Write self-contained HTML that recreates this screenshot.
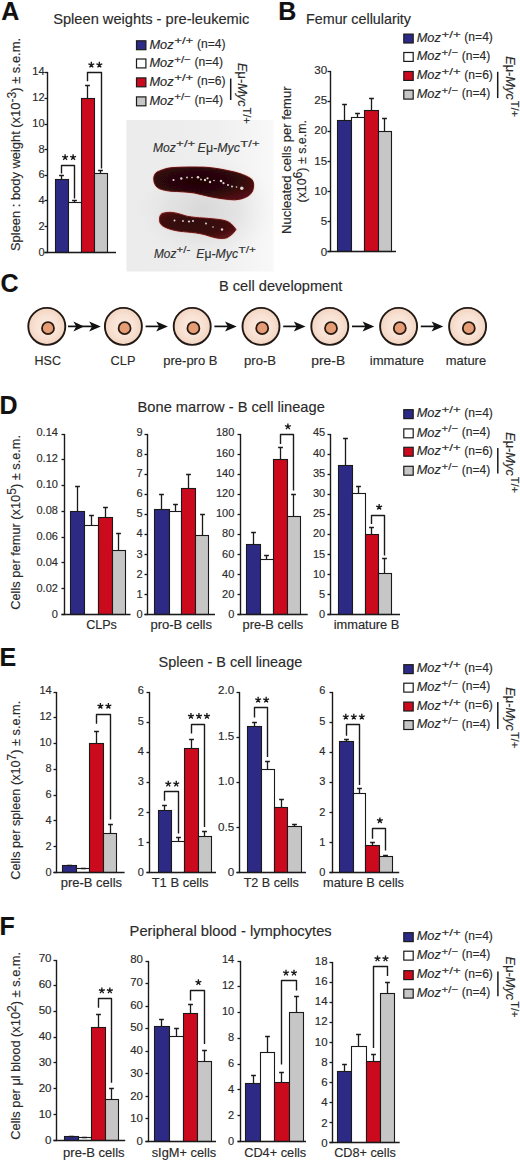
<!DOCTYPE html><html><head><meta charset="utf-8"><title>Figure</title><style>html,body{margin:0;padding:0;background:#fff;}svg{display:block;font-family:"Liberation Sans",sans-serif;} text{stroke:#2a2a2a;stroke-width:0.15px;}</style></head><body>
<svg width="520" height="1162" viewBox="0 0 520 1162">
<rect width="520" height="1162" fill="#fff"/>
<g fill="#2a2a2a">
<text x="1.2" y="19.5" font-size="25" font-weight="bold" fill="#111">A</text>
<text x="278.3" y="19.8" font-size="25" font-weight="bold" fill="#111">B</text>
<text x="0.6" y="292.3" font-size="25" font-weight="bold" fill="#111">C</text>
<text x="-0.4" y="414.4" font-size="25" font-weight="bold" fill="#111">D</text>
<text x="-0.6" y="665.9" font-size="25" font-weight="bold" fill="#111">E</text>
<text x="-0.6" y="935.1" font-size="25" font-weight="bold" fill="#111">F</text>
<text x="53.2" y="23.6" font-size="14.4" textLength="196.2" lengthAdjust="spacingAndGlyphs">Spleen weights - pre-leukemic</text>
<text x="306" y="23.5" font-size="14.4" textLength="105" lengthAdjust="spacingAndGlyphs">Femur cellularity</text>
<text x="219" y="291" font-size="14.4" textLength="123.4" lengthAdjust="spacingAndGlyphs">B cell development</text>
<text x="137.6" y="411.9" font-size="14.4" textLength="187.2" lengthAdjust="spacingAndGlyphs">Bone marrow - B cell lineage</text>
<text x="158.6" y="667" font-size="14.4" textLength="143.6" lengthAdjust="spacingAndGlyphs">Spleen - B cell lineage</text>
<text x="129.6" y="936.2" font-size="14.4" textLength="202.1" lengthAdjust="spacingAndGlyphs">Peripheral blood - lymphocytes</text>
<rect x="55.5" y="179.5" width="13" height="73" fill="#2d2a86" stroke="#1a1a1a" stroke-width="1.1"/>
<rect x="68.5" y="202.5" width="13" height="50" fill="#ffffff" stroke="#1a1a1a" stroke-width="1.1"/>
<rect x="81.5" y="98.5" width="13" height="154" fill="#cc0a1e" stroke="#1a1a1a" stroke-width="1.1"/>
<rect x="94.5" y="173.5" width="13" height="79" fill="#c6c6c6" stroke="#1a1a1a" stroke-width="1.1"/>
<line x1="61.5" y1="179.5" x2="61.5" y2="175.5" stroke="#1a1a1a" stroke-width="1.3" stroke-linecap="butt"/>
<line x1="59.1" y1="175.5" x2="63.9" y2="175.5" stroke="#1a1a1a" stroke-width="1.5" stroke-linecap="butt"/>
<line x1="74.5" y1="202.5" x2="74.5" y2="200.5" stroke="#1a1a1a" stroke-width="1.3" stroke-linecap="butt"/>
<line x1="72.1" y1="200.5" x2="76.9" y2="200.5" stroke="#1a1a1a" stroke-width="1.5" stroke-linecap="butt"/>
<line x1="87.5" y1="98.5" x2="87.5" y2="85.5" stroke="#1a1a1a" stroke-width="1.3" stroke-linecap="butt"/>
<line x1="85.1" y1="85.5" x2="89.9" y2="85.5" stroke="#1a1a1a" stroke-width="1.5" stroke-linecap="butt"/>
<line x1="100.5" y1="173.5" x2="100.5" y2="170.5" stroke="#1a1a1a" stroke-width="1.3" stroke-linecap="butt"/>
<line x1="98.1" y1="170.5" x2="102.9" y2="170.5" stroke="#1a1a1a" stroke-width="1.5" stroke-linecap="butt"/>
<line x1="47.5" y1="71.9" x2="47.5" y2="253.1" stroke="#1a1a1a" stroke-width="1.4" stroke-linecap="butt"/>
<line x1="44.5" y1="252.5" x2="116" y2="252.5" stroke="#1a1a1a" stroke-width="1.4" stroke-linecap="butt"/>
<line x1="44.5" y1="252.5" x2="47.5" y2="252.5" stroke="#1a1a1a" stroke-width="1.3" stroke-linecap="butt"/>
<text x="44.6" y="256.14" font-size="11" text-anchor="end">0</text>
<line x1="44.5" y1="226.5" x2="47.5" y2="226.5" stroke="#1a1a1a" stroke-width="1.3" stroke-linecap="butt"/>
<text x="44.6" y="230.25" font-size="11" text-anchor="end">2</text>
<line x1="44.5" y1="200.5" x2="47.5" y2="200.5" stroke="#1a1a1a" stroke-width="1.3" stroke-linecap="butt"/>
<text x="44.6" y="204.37" font-size="11" text-anchor="end">4</text>
<line x1="44.5" y1="175.5" x2="47.5" y2="175.5" stroke="#1a1a1a" stroke-width="1.3" stroke-linecap="butt"/>
<text x="44.6" y="178.48" font-size="11" text-anchor="end">6</text>
<line x1="44.5" y1="149.5" x2="47.5" y2="149.5" stroke="#1a1a1a" stroke-width="1.3" stroke-linecap="butt"/>
<text x="44.6" y="152.6" font-size="11" text-anchor="end">8</text>
<line x1="44.5" y1="124.5" x2="47.5" y2="124.5" stroke="#1a1a1a" stroke-width="1.3" stroke-linecap="butt"/>
<text x="44.6" y="126.71" font-size="11" text-anchor="end">10</text>
<line x1="44.5" y1="98.5" x2="47.5" y2="98.5" stroke="#1a1a1a" stroke-width="1.3" stroke-linecap="butt"/>
<text x="44.6" y="100.82" font-size="11" text-anchor="end">12</text>
<line x1="44.5" y1="72.5" x2="47.5" y2="72.5" stroke="#1a1a1a" stroke-width="1.3" stroke-linecap="butt"/>
<text x="44.6" y="74.94" font-size="11" text-anchor="end">14</text>
<path d="M61.5 173.5V165.5H74.5V198.5" stroke="#1a1a1a" stroke-width="1.4" fill="none" stroke-linejoin="round"/>
<path d="M65.1 157.4L65.1 154.3M65.1 157.4L68.05 156.44M65.1 157.4L66.92 159.91M65.1 157.4L63.28 159.91M65.1 157.4L62.15 156.44" stroke="#1a1a1a" stroke-width="1.35" stroke-linecap="butt" fill="none"/>
<path d="M73.1 157.4L73.1 154.3M73.1 157.4L76.05 156.44M73.1 157.4L74.92 159.91M73.1 157.4L71.28 159.91M73.1 157.4L70.15 156.44" stroke="#1a1a1a" stroke-width="1.35" stroke-linecap="butt" fill="none"/>
<path d="M87.5 81.3V72.5H101.5V168.5" stroke="#1a1a1a" stroke-width="1.4" fill="none" stroke-linejoin="round"/>
<path d="M91.35 64.9L91.35 61.8M91.35 64.9L94.3 63.94M91.35 64.9L93.17 67.41M91.35 64.9L89.53 67.41M91.35 64.9L88.4 63.94" stroke="#1a1a1a" stroke-width="1.35" stroke-linecap="butt" fill="none"/>
<path d="M99.35 64.9L99.35 61.8M99.35 64.9L102.3 63.94M99.35 64.9L101.17 67.41M99.35 64.9L97.53 67.41M99.35 64.9L96.4 63.94" stroke="#1a1a1a" stroke-width="1.35" stroke-linecap="butt" fill="none"/>
<text x="0" y="0" font-size="12" textLength="0.01" lengthAdjust="spacingAndGlyphs"></text>
<rect x="337.5" y="120.5" width="14" height="131" fill="#2d2a86" stroke="#1a1a1a" stroke-width="1.1"/>
<rect x="351.5" y="117.5" width="13" height="134" fill="#ffffff" stroke="#1a1a1a" stroke-width="1.1"/>
<rect x="364.5" y="110.5" width="14" height="141" fill="#cc0a1e" stroke="#1a1a1a" stroke-width="1.1"/>
<rect x="378.5" y="131.5" width="13" height="120" fill="#c6c6c6" stroke="#1a1a1a" stroke-width="1.1"/>
<line x1="344.5" y1="120.5" x2="344.5" y2="104.5" stroke="#1a1a1a" stroke-width="1.3" stroke-linecap="butt"/>
<line x1="342.1" y1="104.5" x2="346.9" y2="104.5" stroke="#1a1a1a" stroke-width="1.5" stroke-linecap="butt"/>
<line x1="357.5" y1="117.5" x2="357.5" y2="113.5" stroke="#1a1a1a" stroke-width="1.3" stroke-linecap="butt"/>
<line x1="355.1" y1="113.5" x2="359.9" y2="113.5" stroke="#1a1a1a" stroke-width="1.5" stroke-linecap="butt"/>
<line x1="371.5" y1="110.5" x2="371.5" y2="98.5" stroke="#1a1a1a" stroke-width="1.3" stroke-linecap="butt"/>
<line x1="369.1" y1="98.5" x2="373.9" y2="98.5" stroke="#1a1a1a" stroke-width="1.5" stroke-linecap="butt"/>
<line x1="384.5" y1="131.5" x2="384.5" y2="118.5" stroke="#1a1a1a" stroke-width="1.3" stroke-linecap="butt"/>
<line x1="382.1" y1="118.5" x2="386.9" y2="118.5" stroke="#1a1a1a" stroke-width="1.5" stroke-linecap="butt"/>
<line x1="330.5" y1="70.9" x2="330.5" y2="252.1" stroke="#1a1a1a" stroke-width="1.4" stroke-linecap="butt"/>
<line x1="327.5" y1="251.5" x2="396" y2="251.5" stroke="#1a1a1a" stroke-width="1.4" stroke-linecap="butt"/>
<line x1="327.5" y1="251.5" x2="330.5" y2="251.5" stroke="#1a1a1a" stroke-width="1.3" stroke-linecap="butt"/>
<text x="327.2" y="255.55" font-size="11.6" text-anchor="end">0</text>
<line x1="327.5" y1="221.5" x2="330.5" y2="221.5" stroke="#1a1a1a" stroke-width="1.3" stroke-linecap="butt"/>
<text x="327.2" y="225.24" font-size="11.6" text-anchor="end">5</text>
<line x1="327.5" y1="191.5" x2="330.5" y2="191.5" stroke="#1a1a1a" stroke-width="1.3" stroke-linecap="butt"/>
<text x="327.2" y="194.92" font-size="11.6" text-anchor="end">10</text>
<line x1="327.5" y1="161.5" x2="330.5" y2="161.5" stroke="#1a1a1a" stroke-width="1.3" stroke-linecap="butt"/>
<text x="327.2" y="164.6" font-size="11.6" text-anchor="end">15</text>
<line x1="327.5" y1="131.5" x2="330.5" y2="131.5" stroke="#1a1a1a" stroke-width="1.3" stroke-linecap="butt"/>
<text x="327.2" y="134.29" font-size="11.6" text-anchor="end">20</text>
<line x1="327.5" y1="101.5" x2="330.5" y2="101.5" stroke="#1a1a1a" stroke-width="1.3" stroke-linecap="butt"/>
<text x="327.2" y="103.97" font-size="11.6" text-anchor="end">25</text>
<line x1="327.5" y1="71.5" x2="330.5" y2="71.5" stroke="#1a1a1a" stroke-width="1.3" stroke-linecap="butt"/>
<text x="327.2" y="73.65" font-size="11.6" text-anchor="end">30</text>
<text x="0" y="0" font-size="12" textLength="0.01" lengthAdjust="spacingAndGlyphs"></text>
<rect x="70.5" y="511.5" width="14" height="103" fill="#2d2a86" stroke="#1a1a1a" stroke-width="1.1"/>
<rect x="84.5" y="525.5" width="14" height="89" fill="#ffffff" stroke="#1a1a1a" stroke-width="1.1"/>
<rect x="98.5" y="517.5" width="14" height="97" fill="#cc0a1e" stroke="#1a1a1a" stroke-width="1.1"/>
<rect x="112.5" y="550.5" width="13" height="64" fill="#c6c6c6" stroke="#1a1a1a" stroke-width="1.1"/>
<line x1="77.5" y1="511.5" x2="77.5" y2="486.5" stroke="#1a1a1a" stroke-width="1.3" stroke-linecap="butt"/>
<line x1="75.1" y1="486.5" x2="79.9" y2="486.5" stroke="#1a1a1a" stroke-width="1.5" stroke-linecap="butt"/>
<line x1="91.5" y1="525.5" x2="91.5" y2="515.5" stroke="#1a1a1a" stroke-width="1.3" stroke-linecap="butt"/>
<line x1="89.1" y1="515.5" x2="93.9" y2="515.5" stroke="#1a1a1a" stroke-width="1.5" stroke-linecap="butt"/>
<line x1="105.5" y1="517.5" x2="105.5" y2="507.5" stroke="#1a1a1a" stroke-width="1.3" stroke-linecap="butt"/>
<line x1="103.1" y1="507.5" x2="107.9" y2="507.5" stroke="#1a1a1a" stroke-width="1.5" stroke-linecap="butt"/>
<line x1="118.5" y1="550.5" x2="118.5" y2="533.5" stroke="#1a1a1a" stroke-width="1.3" stroke-linecap="butt"/>
<line x1="116.1" y1="533.5" x2="120.9" y2="533.5" stroke="#1a1a1a" stroke-width="1.5" stroke-linecap="butt"/>
<line x1="64.5" y1="433.9" x2="64.5" y2="615.1" stroke="#1a1a1a" stroke-width="1.4" stroke-linecap="butt"/>
<line x1="61.5" y1="614.5" x2="130.5" y2="614.5" stroke="#1a1a1a" stroke-width="1.4" stroke-linecap="butt"/>
<line x1="61.5" y1="614.5" x2="64.5" y2="614.5" stroke="#1a1a1a" stroke-width="1.3" stroke-linecap="butt"/>
<text x="57.9" y="618.14" font-size="11" text-anchor="end">0</text>
<line x1="61.5" y1="588.5" x2="64.5" y2="588.5" stroke="#1a1a1a" stroke-width="1.3" stroke-linecap="butt"/>
<text x="57.9" y="592.17" font-size="11" text-anchor="end">0.02</text>
<line x1="61.5" y1="562.5" x2="64.5" y2="562.5" stroke="#1a1a1a" stroke-width="1.3" stroke-linecap="butt"/>
<text x="57.9" y="566.2" font-size="11" text-anchor="end">0.04</text>
<line x1="61.5" y1="537.5" x2="64.5" y2="537.5" stroke="#1a1a1a" stroke-width="1.3" stroke-linecap="butt"/>
<text x="57.9" y="540.22" font-size="11" text-anchor="end">0.06</text>
<line x1="61.5" y1="511.5" x2="64.5" y2="511.5" stroke="#1a1a1a" stroke-width="1.3" stroke-linecap="butt"/>
<text x="57.9" y="514.25" font-size="11" text-anchor="end">0.08</text>
<line x1="61.5" y1="485.5" x2="64.5" y2="485.5" stroke="#1a1a1a" stroke-width="1.3" stroke-linecap="butt"/>
<text x="57.9" y="488.28" font-size="11" text-anchor="end">0.10</text>
<line x1="61.5" y1="459.5" x2="64.5" y2="459.5" stroke="#1a1a1a" stroke-width="1.3" stroke-linecap="butt"/>
<text x="57.9" y="462.31" font-size="11" text-anchor="end">0.12</text>
<line x1="61.5" y1="434.5" x2="64.5" y2="434.5" stroke="#1a1a1a" stroke-width="1.3" stroke-linecap="butt"/>
<text x="57.9" y="436.34" font-size="11" text-anchor="end">0.14</text>
<text x="86.2" y="629.4" font-size="12" textLength="30.7" lengthAdjust="spacingAndGlyphs">CLPs</text>
<rect x="154.5" y="509.5" width="15" height="105" fill="#2d2a86" stroke="#1a1a1a" stroke-width="1.1"/>
<rect x="169.5" y="511.5" width="12" height="103" fill="#ffffff" stroke="#1a1a1a" stroke-width="1.1"/>
<rect x="181.5" y="488.5" width="14" height="126" fill="#cc0a1e" stroke="#1a1a1a" stroke-width="1.1"/>
<rect x="195.5" y="535.5" width="13" height="79" fill="#c6c6c6" stroke="#1a1a1a" stroke-width="1.1"/>
<line x1="161.5" y1="509.5" x2="161.5" y2="494.5" stroke="#1a1a1a" stroke-width="1.3" stroke-linecap="butt"/>
<line x1="159.1" y1="494.5" x2="163.9" y2="494.5" stroke="#1a1a1a" stroke-width="1.5" stroke-linecap="butt"/>
<line x1="175.5" y1="511.5" x2="175.5" y2="504.5" stroke="#1a1a1a" stroke-width="1.3" stroke-linecap="butt"/>
<line x1="173.1" y1="504.5" x2="177.9" y2="504.5" stroke="#1a1a1a" stroke-width="1.5" stroke-linecap="butt"/>
<line x1="188.5" y1="488.5" x2="188.5" y2="474.5" stroke="#1a1a1a" stroke-width="1.3" stroke-linecap="butt"/>
<line x1="186.1" y1="474.5" x2="190.9" y2="474.5" stroke="#1a1a1a" stroke-width="1.5" stroke-linecap="butt"/>
<line x1="202.5" y1="535.5" x2="202.5" y2="514.5" stroke="#1a1a1a" stroke-width="1.3" stroke-linecap="butt"/>
<line x1="200.1" y1="514.5" x2="204.9" y2="514.5" stroke="#1a1a1a" stroke-width="1.5" stroke-linecap="butt"/>
<line x1="147.5" y1="433.9" x2="147.5" y2="615.1" stroke="#1a1a1a" stroke-width="1.4" stroke-linecap="butt"/>
<line x1="144.5" y1="614.5" x2="215" y2="614.5" stroke="#1a1a1a" stroke-width="1.4" stroke-linecap="butt"/>
<line x1="144.5" y1="614.5" x2="147.5" y2="614.5" stroke="#1a1a1a" stroke-width="1.3" stroke-linecap="butt"/>
<text x="142.6" y="618.14" font-size="11" text-anchor="end">0</text>
<line x1="144.5" y1="594.5" x2="147.5" y2="594.5" stroke="#1a1a1a" stroke-width="1.3" stroke-linecap="butt"/>
<text x="142.6" y="597.94" font-size="11" text-anchor="end">1</text>
<line x1="144.5" y1="574.5" x2="147.5" y2="574.5" stroke="#1a1a1a" stroke-width="1.3" stroke-linecap="butt"/>
<text x="142.6" y="577.74" font-size="11" text-anchor="end">2</text>
<line x1="144.5" y1="554.5" x2="147.5" y2="554.5" stroke="#1a1a1a" stroke-width="1.3" stroke-linecap="butt"/>
<text x="142.6" y="557.54" font-size="11" text-anchor="end">3</text>
<line x1="144.5" y1="534.5" x2="147.5" y2="534.5" stroke="#1a1a1a" stroke-width="1.3" stroke-linecap="butt"/>
<text x="142.6" y="537.34" font-size="11" text-anchor="end">4</text>
<line x1="144.5" y1="514.5" x2="147.5" y2="514.5" stroke="#1a1a1a" stroke-width="1.3" stroke-linecap="butt"/>
<text x="142.6" y="517.14" font-size="11" text-anchor="end">5</text>
<line x1="144.5" y1="494.5" x2="147.5" y2="494.5" stroke="#1a1a1a" stroke-width="1.3" stroke-linecap="butt"/>
<text x="142.6" y="496.94" font-size="11" text-anchor="end">6</text>
<line x1="144.5" y1="474.5" x2="147.5" y2="474.5" stroke="#1a1a1a" stroke-width="1.3" stroke-linecap="butt"/>
<text x="142.6" y="476.74" font-size="11" text-anchor="end">7</text>
<line x1="144.5" y1="454.5" x2="147.5" y2="454.5" stroke="#1a1a1a" stroke-width="1.3" stroke-linecap="butt"/>
<text x="142.6" y="456.54" font-size="11" text-anchor="end">8</text>
<line x1="144.5" y1="434.5" x2="147.5" y2="434.5" stroke="#1a1a1a" stroke-width="1.3" stroke-linecap="butt"/>
<text x="142.6" y="436.34" font-size="11" text-anchor="end">9</text>
<text x="150.4" y="629.4" font-size="12" textLength="61.6" lengthAdjust="spacingAndGlyphs">pro-B cells</text>
<rect x="246.5" y="544.5" width="14" height="70" fill="#2d2a86" stroke="#1a1a1a" stroke-width="1.1"/>
<rect x="260.5" y="559.5" width="13" height="55" fill="#ffffff" stroke="#1a1a1a" stroke-width="1.1"/>
<rect x="273.5" y="459.5" width="14" height="155" fill="#cc0a1e" stroke="#1a1a1a" stroke-width="1.1"/>
<rect x="287.5" y="516.5" width="13" height="98" fill="#c6c6c6" stroke="#1a1a1a" stroke-width="1.1"/>
<line x1="253.5" y1="544.5" x2="253.5" y2="532.5" stroke="#1a1a1a" stroke-width="1.3" stroke-linecap="butt"/>
<line x1="251.1" y1="532.5" x2="255.9" y2="532.5" stroke="#1a1a1a" stroke-width="1.5" stroke-linecap="butt"/>
<line x1="266.5" y1="559.5" x2="266.5" y2="555.5" stroke="#1a1a1a" stroke-width="1.3" stroke-linecap="butt"/>
<line x1="264.1" y1="555.5" x2="268.9" y2="555.5" stroke="#1a1a1a" stroke-width="1.5" stroke-linecap="butt"/>
<line x1="280.5" y1="459.5" x2="280.5" y2="447.5" stroke="#1a1a1a" stroke-width="1.3" stroke-linecap="butt"/>
<line x1="278.1" y1="447.5" x2="282.9" y2="447.5" stroke="#1a1a1a" stroke-width="1.5" stroke-linecap="butt"/>
<line x1="293.5" y1="516.5" x2="293.5" y2="494.5" stroke="#1a1a1a" stroke-width="1.3" stroke-linecap="butt"/>
<line x1="291.1" y1="494.5" x2="295.9" y2="494.5" stroke="#1a1a1a" stroke-width="1.5" stroke-linecap="butt"/>
<line x1="240.5" y1="433.9" x2="240.5" y2="615.1" stroke="#1a1a1a" stroke-width="1.4" stroke-linecap="butt"/>
<line x1="237.5" y1="614.5" x2="307.7" y2="614.5" stroke="#1a1a1a" stroke-width="1.4" stroke-linecap="butt"/>
<line x1="237.5" y1="614.5" x2="240.5" y2="614.5" stroke="#1a1a1a" stroke-width="1.3" stroke-linecap="butt"/>
<text x="234.3" y="618.14" font-size="11" text-anchor="end">0</text>
<line x1="237.5" y1="594.5" x2="240.5" y2="594.5" stroke="#1a1a1a" stroke-width="1.3" stroke-linecap="butt"/>
<text x="234.3" y="597.94" font-size="11" text-anchor="end">20</text>
<line x1="237.5" y1="574.5" x2="240.5" y2="574.5" stroke="#1a1a1a" stroke-width="1.3" stroke-linecap="butt"/>
<text x="234.3" y="577.74" font-size="11" text-anchor="end">40</text>
<line x1="237.5" y1="554.5" x2="240.5" y2="554.5" stroke="#1a1a1a" stroke-width="1.3" stroke-linecap="butt"/>
<text x="234.3" y="557.54" font-size="11" text-anchor="end">60</text>
<line x1="237.5" y1="534.5" x2="240.5" y2="534.5" stroke="#1a1a1a" stroke-width="1.3" stroke-linecap="butt"/>
<text x="234.3" y="537.34" font-size="11" text-anchor="end">80</text>
<line x1="237.5" y1="514.5" x2="240.5" y2="514.5" stroke="#1a1a1a" stroke-width="1.3" stroke-linecap="butt"/>
<text x="234.3" y="517.14" font-size="11" text-anchor="end">100</text>
<line x1="237.5" y1="494.5" x2="240.5" y2="494.5" stroke="#1a1a1a" stroke-width="1.3" stroke-linecap="butt"/>
<text x="234.3" y="496.94" font-size="11" text-anchor="end">120</text>
<line x1="237.5" y1="474.5" x2="240.5" y2="474.5" stroke="#1a1a1a" stroke-width="1.3" stroke-linecap="butt"/>
<text x="234.3" y="476.74" font-size="11" text-anchor="end">140</text>
<line x1="237.5" y1="454.5" x2="240.5" y2="454.5" stroke="#1a1a1a" stroke-width="1.3" stroke-linecap="butt"/>
<text x="234.3" y="456.54" font-size="11" text-anchor="end">160</text>
<line x1="237.5" y1="434.5" x2="240.5" y2="434.5" stroke="#1a1a1a" stroke-width="1.3" stroke-linecap="butt"/>
<text x="234.3" y="436.34" font-size="11" text-anchor="end">180</text>
<path d="M280.5 444V434.5H293.5V490.4" stroke="#1a1a1a" stroke-width="1.4" fill="none" stroke-linejoin="round"/>
<path d="M287.9 426.6L287.9 423.5M287.9 426.6L290.85 425.64M287.9 426.6L289.72 429.11M287.9 426.6L286.08 429.11M287.9 426.6L284.95 425.64" stroke="#1a1a1a" stroke-width="1.35" stroke-linecap="butt" fill="none"/>
<text x="242.5" y="629.4" font-size="12" textLength="60.7" lengthAdjust="spacingAndGlyphs">pre-B cells</text>
<rect x="338.5" y="465.5" width="14" height="149" fill="#2d2a86" stroke="#1a1a1a" stroke-width="1.1"/>
<rect x="352.5" y="493.5" width="13" height="121" fill="#ffffff" stroke="#1a1a1a" stroke-width="1.1"/>
<rect x="365.5" y="534.5" width="13" height="80" fill="#cc0a1e" stroke="#1a1a1a" stroke-width="1.1"/>
<rect x="378.5" y="573.5" width="13" height="41" fill="#c6c6c6" stroke="#1a1a1a" stroke-width="1.1"/>
<line x1="345.5" y1="465.5" x2="345.5" y2="438.5" stroke="#1a1a1a" stroke-width="1.3" stroke-linecap="butt"/>
<line x1="343.1" y1="438.5" x2="347.9" y2="438.5" stroke="#1a1a1a" stroke-width="1.5" stroke-linecap="butt"/>
<line x1="358.5" y1="493.5" x2="358.5" y2="486.5" stroke="#1a1a1a" stroke-width="1.3" stroke-linecap="butt"/>
<line x1="356.1" y1="486.5" x2="360.9" y2="486.5" stroke="#1a1a1a" stroke-width="1.5" stroke-linecap="butt"/>
<line x1="371.5" y1="534.5" x2="371.5" y2="527.5" stroke="#1a1a1a" stroke-width="1.3" stroke-linecap="butt"/>
<line x1="369.1" y1="527.5" x2="373.9" y2="527.5" stroke="#1a1a1a" stroke-width="1.5" stroke-linecap="butt"/>
<line x1="384.5" y1="573.5" x2="384.5" y2="558.5" stroke="#1a1a1a" stroke-width="1.3" stroke-linecap="butt"/>
<line x1="382.1" y1="558.5" x2="386.9" y2="558.5" stroke="#1a1a1a" stroke-width="1.5" stroke-linecap="butt"/>
<line x1="330.5" y1="433.9" x2="330.5" y2="615.1" stroke="#1a1a1a" stroke-width="1.4" stroke-linecap="butt"/>
<line x1="327.5" y1="614.5" x2="400" y2="614.5" stroke="#1a1a1a" stroke-width="1.4" stroke-linecap="butt"/>
<line x1="327.5" y1="614.5" x2="330.5" y2="614.5" stroke="#1a1a1a" stroke-width="1.3" stroke-linecap="butt"/>
<text x="325.2" y="618.14" font-size="11" text-anchor="end">0</text>
<line x1="327.5" y1="594.5" x2="330.5" y2="594.5" stroke="#1a1a1a" stroke-width="1.3" stroke-linecap="butt"/>
<text x="325.2" y="597.94" font-size="11" text-anchor="end">5</text>
<line x1="327.5" y1="574.5" x2="330.5" y2="574.5" stroke="#1a1a1a" stroke-width="1.3" stroke-linecap="butt"/>
<text x="325.2" y="577.74" font-size="11" text-anchor="end">10</text>
<line x1="327.5" y1="554.5" x2="330.5" y2="554.5" stroke="#1a1a1a" stroke-width="1.3" stroke-linecap="butt"/>
<text x="325.2" y="557.54" font-size="11" text-anchor="end">15</text>
<line x1="327.5" y1="534.5" x2="330.5" y2="534.5" stroke="#1a1a1a" stroke-width="1.3" stroke-linecap="butt"/>
<text x="325.2" y="537.34" font-size="11" text-anchor="end">20</text>
<line x1="327.5" y1="514.5" x2="330.5" y2="514.5" stroke="#1a1a1a" stroke-width="1.3" stroke-linecap="butt"/>
<text x="325.2" y="517.14" font-size="11" text-anchor="end">25</text>
<line x1="327.5" y1="494.5" x2="330.5" y2="494.5" stroke="#1a1a1a" stroke-width="1.3" stroke-linecap="butt"/>
<text x="325.2" y="496.94" font-size="11" text-anchor="end">30</text>
<line x1="327.5" y1="474.5" x2="330.5" y2="474.5" stroke="#1a1a1a" stroke-width="1.3" stroke-linecap="butt"/>
<text x="325.2" y="476.74" font-size="11" text-anchor="end">35</text>
<line x1="327.5" y1="454.5" x2="330.5" y2="454.5" stroke="#1a1a1a" stroke-width="1.3" stroke-linecap="butt"/>
<text x="325.2" y="456.54" font-size="11" text-anchor="end">40</text>
<line x1="327.5" y1="434.5" x2="330.5" y2="434.5" stroke="#1a1a1a" stroke-width="1.3" stroke-linecap="butt"/>
<text x="325.2" y="436.34" font-size="11" text-anchor="end">45</text>
<path d="M371.5 524V515.5H384.5V555.5" stroke="#1a1a1a" stroke-width="1.4" fill="none" stroke-linejoin="round"/>
<path d="M379.15 507L379.15 503.9M379.15 507L382.1 506.04M379.15 507L380.97 509.51M379.15 507L377.33 509.51M379.15 507L376.2 506.04" stroke="#1a1a1a" stroke-width="1.35" stroke-linecap="butt" fill="none"/>
<text x="333.7" y="629.4" font-size="12" textLength="65.7" lengthAdjust="spacingAndGlyphs">immature B</text>
<rect x="62.5" y="865.5" width="14" height="7" fill="#2d2a86" stroke="#1a1a1a" stroke-width="1.1"/>
<rect x="76.5" y="868.5" width="13" height="4" fill="#ffffff" stroke="#1a1a1a" stroke-width="1.1"/>
<rect x="89.5" y="743.5" width="14" height="129" fill="#cc0a1e" stroke="#1a1a1a" stroke-width="1.1"/>
<rect x="103.5" y="833.5" width="13" height="39" fill="#c6c6c6" stroke="#1a1a1a" stroke-width="1.1"/>
<line x1="69.5" y1="865.5" x2="69.5" y2="865.5" stroke="#1a1a1a" stroke-width="1.3" stroke-linecap="butt"/>
<line x1="67.1" y1="865.5" x2="71.9" y2="865.5" stroke="#1a1a1a" stroke-width="1.5" stroke-linecap="butt"/>
<line x1="83.5" y1="868.5" x2="83.5" y2="868.5" stroke="#1a1a1a" stroke-width="1.3" stroke-linecap="butt"/>
<line x1="81.1" y1="868.5" x2="85.9" y2="868.5" stroke="#1a1a1a" stroke-width="1.5" stroke-linecap="butt"/>
<line x1="96.5" y1="743.5" x2="96.5" y2="731.5" stroke="#1a1a1a" stroke-width="1.3" stroke-linecap="butt"/>
<line x1="94.1" y1="731.5" x2="98.9" y2="731.5" stroke="#1a1a1a" stroke-width="1.5" stroke-linecap="butt"/>
<line x1="110.5" y1="833.5" x2="110.5" y2="824.5" stroke="#1a1a1a" stroke-width="1.3" stroke-linecap="butt"/>
<line x1="108.1" y1="824.5" x2="112.9" y2="824.5" stroke="#1a1a1a" stroke-width="1.5" stroke-linecap="butt"/>
<line x1="56.5" y1="691.9" x2="56.5" y2="873.1" stroke="#1a1a1a" stroke-width="1.4" stroke-linecap="butt"/>
<line x1="53.5" y1="872.5" x2="124.6" y2="872.5" stroke="#1a1a1a" stroke-width="1.4" stroke-linecap="butt"/>
<line x1="53.5" y1="872.5" x2="56.5" y2="872.5" stroke="#1a1a1a" stroke-width="1.3" stroke-linecap="butt"/>
<text x="51.7" y="876.14" font-size="11" text-anchor="end">0</text>
<line x1="53.5" y1="846.5" x2="56.5" y2="846.5" stroke="#1a1a1a" stroke-width="1.3" stroke-linecap="butt"/>
<text x="51.7" y="850.17" font-size="11" text-anchor="end">2</text>
<line x1="53.5" y1="820.5" x2="56.5" y2="820.5" stroke="#1a1a1a" stroke-width="1.3" stroke-linecap="butt"/>
<text x="51.7" y="824.2" font-size="11" text-anchor="end">4</text>
<line x1="53.5" y1="795.5" x2="56.5" y2="795.5" stroke="#1a1a1a" stroke-width="1.3" stroke-linecap="butt"/>
<text x="51.7" y="798.22" font-size="11" text-anchor="end">6</text>
<line x1="53.5" y1="769.5" x2="56.5" y2="769.5" stroke="#1a1a1a" stroke-width="1.3" stroke-linecap="butt"/>
<text x="51.7" y="772.25" font-size="11" text-anchor="end">8</text>
<line x1="53.5" y1="743.5" x2="56.5" y2="743.5" stroke="#1a1a1a" stroke-width="1.3" stroke-linecap="butt"/>
<text x="51.7" y="746.28" font-size="11" text-anchor="end">10</text>
<line x1="53.5" y1="717.5" x2="56.5" y2="717.5" stroke="#1a1a1a" stroke-width="1.3" stroke-linecap="butt"/>
<text x="51.7" y="720.31" font-size="11" text-anchor="end">12</text>
<line x1="53.5" y1="692.5" x2="56.5" y2="692.5" stroke="#1a1a1a" stroke-width="1.3" stroke-linecap="butt"/>
<text x="51.7" y="694.34" font-size="11" text-anchor="end">14</text>
<path d="M96.5 723.8V714.5H110.5V819.4" stroke="#1a1a1a" stroke-width="1.4" fill="none" stroke-linejoin="round"/>
<path d="M100.4 706L100.4 702.9M100.4 706L103.35 705.04M100.4 706L102.22 708.51M100.4 706L98.58 708.51M100.4 706L97.45 705.04" stroke="#1a1a1a" stroke-width="1.35" stroke-linecap="butt" fill="none"/>
<path d="M108.4 706L108.4 702.9M108.4 706L111.35 705.04M108.4 706L110.22 708.51M108.4 706L106.58 708.51M108.4 706L105.45 705.04" stroke="#1a1a1a" stroke-width="1.35" stroke-linecap="butt" fill="none"/>
<text x="60.8" y="886.8" font-size="12" textLength="61.2" lengthAdjust="spacingAndGlyphs">pre-B cells</text>
<rect x="158.5" y="810.5" width="13" height="62" fill="#2d2a86" stroke="#1a1a1a" stroke-width="1.1"/>
<rect x="171.5" y="841.5" width="13" height="31" fill="#ffffff" stroke="#1a1a1a" stroke-width="1.1"/>
<rect x="184.5" y="748.5" width="14" height="124" fill="#cc0a1e" stroke="#1a1a1a" stroke-width="1.1"/>
<rect x="198.5" y="836.5" width="13" height="36" fill="#c6c6c6" stroke="#1a1a1a" stroke-width="1.1"/>
<line x1="164.5" y1="810.5" x2="164.5" y2="805.5" stroke="#1a1a1a" stroke-width="1.3" stroke-linecap="butt"/>
<line x1="162.1" y1="805.5" x2="166.9" y2="805.5" stroke="#1a1a1a" stroke-width="1.5" stroke-linecap="butt"/>
<line x1="178.5" y1="841.5" x2="178.5" y2="837.5" stroke="#1a1a1a" stroke-width="1.3" stroke-linecap="butt"/>
<line x1="176.1" y1="837.5" x2="180.9" y2="837.5" stroke="#1a1a1a" stroke-width="1.5" stroke-linecap="butt"/>
<line x1="191.5" y1="748.5" x2="191.5" y2="739.5" stroke="#1a1a1a" stroke-width="1.3" stroke-linecap="butt"/>
<line x1="189.1" y1="739.5" x2="193.9" y2="739.5" stroke="#1a1a1a" stroke-width="1.5" stroke-linecap="butt"/>
<line x1="204.5" y1="836.5" x2="204.5" y2="831.5" stroke="#1a1a1a" stroke-width="1.3" stroke-linecap="butt"/>
<line x1="202.1" y1="831.5" x2="206.9" y2="831.5" stroke="#1a1a1a" stroke-width="1.5" stroke-linecap="butt"/>
<line x1="149.5" y1="691.9" x2="149.5" y2="873.1" stroke="#1a1a1a" stroke-width="1.4" stroke-linecap="butt"/>
<line x1="146.5" y1="872.5" x2="216" y2="872.5" stroke="#1a1a1a" stroke-width="1.4" stroke-linecap="butt"/>
<line x1="146.5" y1="872.5" x2="149.5" y2="872.5" stroke="#1a1a1a" stroke-width="1.3" stroke-linecap="butt"/>
<text x="143.8" y="876.14" font-size="11" text-anchor="end">0</text>
<line x1="146.5" y1="842.5" x2="149.5" y2="842.5" stroke="#1a1a1a" stroke-width="1.3" stroke-linecap="butt"/>
<text x="143.8" y="845.84" font-size="11" text-anchor="end">1</text>
<line x1="146.5" y1="812.5" x2="149.5" y2="812.5" stroke="#1a1a1a" stroke-width="1.3" stroke-linecap="butt"/>
<text x="143.8" y="815.54" font-size="11" text-anchor="end">2</text>
<line x1="146.5" y1="782.5" x2="149.5" y2="782.5" stroke="#1a1a1a" stroke-width="1.3" stroke-linecap="butt"/>
<text x="143.8" y="785.24" font-size="11" text-anchor="end">3</text>
<line x1="146.5" y1="752.5" x2="149.5" y2="752.5" stroke="#1a1a1a" stroke-width="1.3" stroke-linecap="butt"/>
<text x="143.8" y="754.94" font-size="11" text-anchor="end">4</text>
<line x1="146.5" y1="722.5" x2="149.5" y2="722.5" stroke="#1a1a1a" stroke-width="1.3" stroke-linecap="butt"/>
<text x="143.8" y="724.64" font-size="11" text-anchor="end">5</text>
<line x1="146.5" y1="692.5" x2="149.5" y2="692.5" stroke="#1a1a1a" stroke-width="1.3" stroke-linecap="butt"/>
<text x="143.8" y="694.34" font-size="11" text-anchor="end">6</text>
<path d="M164.5 800.8V791.5H178.5V833.5" stroke="#1a1a1a" stroke-width="1.4" fill="none" stroke-linejoin="round"/>
<path d="M168.25 783.9L168.25 780.8M168.25 783.9L171.2 782.94M168.25 783.9L170.07 786.41M168.25 783.9L166.43 786.41M168.25 783.9L165.3 782.94" stroke="#1a1a1a" stroke-width="1.35" stroke-linecap="butt" fill="none"/>
<path d="M176.25 783.9L176.25 780.8M176.25 783.9L179.2 782.94M176.25 783.9L178.07 786.41M176.25 783.9L174.43 786.41M176.25 783.9L173.3 782.94" stroke="#1a1a1a" stroke-width="1.35" stroke-linecap="butt" fill="none"/>
<path d="M191.5 733.5V724.5H204.5V827" stroke="#1a1a1a" stroke-width="1.4" fill="none" stroke-linejoin="round"/>
<path d="M190.95 716.2L190.95 713.1M190.95 716.2L193.9 715.24M190.95 716.2L192.77 718.71M190.95 716.2L189.13 718.71M190.95 716.2L188 715.24" stroke="#1a1a1a" stroke-width="1.35" stroke-linecap="butt" fill="none"/>
<path d="M198.95 716.2L198.95 713.1M198.95 716.2L201.9 715.24M198.95 716.2L200.77 718.71M198.95 716.2L197.13 718.71M198.95 716.2L196 715.24" stroke="#1a1a1a" stroke-width="1.35" stroke-linecap="butt" fill="none"/>
<path d="M206.95 716.2L206.95 713.1M206.95 716.2L209.9 715.24M206.95 716.2L208.77 718.71M206.95 716.2L205.13 718.71M206.95 716.2L204 715.24" stroke="#1a1a1a" stroke-width="1.35" stroke-linecap="butt" fill="none"/>
<text x="151.7" y="886.8" font-size="12" textLength="56.9" lengthAdjust="spacingAndGlyphs">T1 B cells</text>
<rect x="247.5" y="726.5" width="14" height="146" fill="#2d2a86" stroke="#1a1a1a" stroke-width="1.1"/>
<rect x="261.5" y="769.5" width="13" height="103" fill="#ffffff" stroke="#1a1a1a" stroke-width="1.1"/>
<rect x="274.5" y="807.5" width="13" height="65" fill="#cc0a1e" stroke="#1a1a1a" stroke-width="1.1"/>
<rect x="287.5" y="826.5" width="14" height="46" fill="#c6c6c6" stroke="#1a1a1a" stroke-width="1.1"/>
<line x1="254.5" y1="726.5" x2="254.5" y2="722.5" stroke="#1a1a1a" stroke-width="1.3" stroke-linecap="butt"/>
<line x1="252.1" y1="722.5" x2="256.9" y2="722.5" stroke="#1a1a1a" stroke-width="1.5" stroke-linecap="butt"/>
<line x1="267.5" y1="769.5" x2="267.5" y2="761.5" stroke="#1a1a1a" stroke-width="1.3" stroke-linecap="butt"/>
<line x1="265.1" y1="761.5" x2="269.9" y2="761.5" stroke="#1a1a1a" stroke-width="1.5" stroke-linecap="butt"/>
<line x1="281.5" y1="807.5" x2="281.5" y2="799.5" stroke="#1a1a1a" stroke-width="1.3" stroke-linecap="butt"/>
<line x1="279.1" y1="799.5" x2="283.9" y2="799.5" stroke="#1a1a1a" stroke-width="1.5" stroke-linecap="butt"/>
<line x1="294.5" y1="826.5" x2="294.5" y2="824.5" stroke="#1a1a1a" stroke-width="1.3" stroke-linecap="butt"/>
<line x1="292.1" y1="824.5" x2="296.9" y2="824.5" stroke="#1a1a1a" stroke-width="1.5" stroke-linecap="butt"/>
<line x1="239.5" y1="691.9" x2="239.5" y2="873.1" stroke="#1a1a1a" stroke-width="1.4" stroke-linecap="butt"/>
<line x1="236.5" y1="872.5" x2="306" y2="872.5" stroke="#1a1a1a" stroke-width="1.4" stroke-linecap="butt"/>
<line x1="236.5" y1="872.5" x2="239.5" y2="872.5" stroke="#1a1a1a" stroke-width="1.3" stroke-linecap="butt"/>
<text transform="translate(234.2,876.14) scale(1.06,1)" font-size="11" text-anchor="end">0</text>
<line x1="236.5" y1="827.5" x2="239.5" y2="827.5" stroke="#1a1a1a" stroke-width="1.3" stroke-linecap="butt"/>
<text transform="translate(234.2,830.69) scale(1.06,1)" font-size="11" text-anchor="end">0.5</text>
<line x1="236.5" y1="782.5" x2="239.5" y2="782.5" stroke="#1a1a1a" stroke-width="1.3" stroke-linecap="butt"/>
<text transform="translate(234.2,785.24) scale(1.06,1)" font-size="11" text-anchor="end">1.0</text>
<line x1="236.5" y1="737.5" x2="239.5" y2="737.5" stroke="#1a1a1a" stroke-width="1.3" stroke-linecap="butt"/>
<text transform="translate(234.2,739.79) scale(1.06,1)" font-size="11" text-anchor="end">1.5</text>
<line x1="236.5" y1="692.5" x2="239.5" y2="692.5" stroke="#1a1a1a" stroke-width="1.3" stroke-linecap="butt"/>
<text transform="translate(234.2,694.34) scale(1.06,1)" font-size="11" text-anchor="end">2.0</text>
<path d="M254.5 717.5V707.5H267.5V757" stroke="#1a1a1a" stroke-width="1.4" fill="none" stroke-linejoin="round"/>
<path d="M258.15 699.9L258.15 696.8M258.15 699.9L261.1 698.94M258.15 699.9L259.97 702.41M258.15 699.9L256.33 702.41M258.15 699.9L255.2 698.94" stroke="#1a1a1a" stroke-width="1.35" stroke-linecap="butt" fill="none"/>
<path d="M266.15 699.9L266.15 696.8M266.15 699.9L269.1 698.94M266.15 699.9L267.97 702.41M266.15 699.9L264.33 702.41M266.15 699.9L263.2 698.94" stroke="#1a1a1a" stroke-width="1.35" stroke-linecap="butt" fill="none"/>
<text x="243.7" y="886.8" font-size="12" textLength="55.2" lengthAdjust="spacingAndGlyphs">T2 B cells</text>
<rect x="339.5" y="741.5" width="14" height="131" fill="#2d2a86" stroke="#1a1a1a" stroke-width="1.1"/>
<rect x="353.5" y="793.5" width="12" height="79" fill="#ffffff" stroke="#1a1a1a" stroke-width="1.1"/>
<rect x="365.5" y="845.5" width="14" height="27" fill="#cc0a1e" stroke="#1a1a1a" stroke-width="1.1"/>
<rect x="379.5" y="856.5" width="13" height="16" fill="#c6c6c6" stroke="#1a1a1a" stroke-width="1.1"/>
<line x1="346.5" y1="741.5" x2="346.5" y2="739.5" stroke="#1a1a1a" stroke-width="1.3" stroke-linecap="butt"/>
<line x1="344.1" y1="739.5" x2="348.9" y2="739.5" stroke="#1a1a1a" stroke-width="1.5" stroke-linecap="butt"/>
<line x1="359.5" y1="793.5" x2="359.5" y2="788.5" stroke="#1a1a1a" stroke-width="1.3" stroke-linecap="butt"/>
<line x1="357.1" y1="788.5" x2="361.9" y2="788.5" stroke="#1a1a1a" stroke-width="1.5" stroke-linecap="butt"/>
<line x1="372.5" y1="845.5" x2="372.5" y2="842.5" stroke="#1a1a1a" stroke-width="1.3" stroke-linecap="butt"/>
<line x1="370.1" y1="842.5" x2="374.9" y2="842.5" stroke="#1a1a1a" stroke-width="1.5" stroke-linecap="butt"/>
<line x1="385.5" y1="856.5" x2="385.5" y2="855.5" stroke="#1a1a1a" stroke-width="1.3" stroke-linecap="butt"/>
<line x1="383.1" y1="855.5" x2="387.9" y2="855.5" stroke="#1a1a1a" stroke-width="1.5" stroke-linecap="butt"/>
<line x1="332.5" y1="691.9" x2="332.5" y2="873.1" stroke="#1a1a1a" stroke-width="1.4" stroke-linecap="butt"/>
<line x1="329.5" y1="872.5" x2="399.2" y2="872.5" stroke="#1a1a1a" stroke-width="1.4" stroke-linecap="butt"/>
<line x1="329.5" y1="872.5" x2="332.5" y2="872.5" stroke="#1a1a1a" stroke-width="1.3" stroke-linecap="butt"/>
<text x="325.4" y="876.14" font-size="11" text-anchor="end">0</text>
<line x1="329.5" y1="842.5" x2="332.5" y2="842.5" stroke="#1a1a1a" stroke-width="1.3" stroke-linecap="butt"/>
<text x="325.4" y="845.84" font-size="11" text-anchor="end">1</text>
<line x1="329.5" y1="812.5" x2="332.5" y2="812.5" stroke="#1a1a1a" stroke-width="1.3" stroke-linecap="butt"/>
<text x="325.4" y="815.54" font-size="11" text-anchor="end">2</text>
<line x1="329.5" y1="782.5" x2="332.5" y2="782.5" stroke="#1a1a1a" stroke-width="1.3" stroke-linecap="butt"/>
<text x="325.4" y="785.24" font-size="11" text-anchor="end">3</text>
<line x1="329.5" y1="752.5" x2="332.5" y2="752.5" stroke="#1a1a1a" stroke-width="1.3" stroke-linecap="butt"/>
<text x="325.4" y="754.94" font-size="11" text-anchor="end">4</text>
<line x1="329.5" y1="722.5" x2="332.5" y2="722.5" stroke="#1a1a1a" stroke-width="1.3" stroke-linecap="butt"/>
<text x="325.4" y="724.64" font-size="11" text-anchor="end">5</text>
<line x1="329.5" y1="692.5" x2="332.5" y2="692.5" stroke="#1a1a1a" stroke-width="1.3" stroke-linecap="butt"/>
<text x="325.4" y="694.34" font-size="11" text-anchor="end">6</text>
<path d="M346.5 735.8V724.5H359.5V785" stroke="#1a1a1a" stroke-width="1.4" fill="none" stroke-linejoin="round"/>
<path d="M345.8 716.8L345.8 713.7M345.8 716.8L348.75 715.84M345.8 716.8L347.62 719.31M345.8 716.8L343.98 719.31M345.8 716.8L342.85 715.84" stroke="#1a1a1a" stroke-width="1.35" stroke-linecap="butt" fill="none"/>
<path d="M353.8 716.8L353.8 713.7M353.8 716.8L356.75 715.84M353.8 716.8L355.62 719.31M353.8 716.8L351.98 719.31M353.8 716.8L350.85 715.84" stroke="#1a1a1a" stroke-width="1.35" stroke-linecap="butt" fill="none"/>
<path d="M361.8 716.8L361.8 713.7M361.8 716.8L364.75 715.84M361.8 716.8L363.62 719.31M361.8 716.8L359.98 719.31M361.8 716.8L358.85 715.84" stroke="#1a1a1a" stroke-width="1.35" stroke-linecap="butt" fill="none"/>
<path d="M372.5 838.8V828.5H385.5V850.4" stroke="#1a1a1a" stroke-width="1.4" fill="none" stroke-linejoin="round"/>
<path d="M379.9 820.5L379.9 817.4M379.9 820.5L382.85 819.54M379.9 820.5L381.72 823.01M379.9 820.5L378.08 823.01M379.9 820.5L376.95 819.54" stroke="#1a1a1a" stroke-width="1.35" stroke-linecap="butt" fill="none"/>
<text x="323" y="887" font-size="12" textLength="81" lengthAdjust="spacingAndGlyphs">mature B cells</text>
<rect x="64.5" y="1136.5" width="14" height="4" fill="#2d2a86" stroke="#1a1a1a" stroke-width="1.1"/>
<rect x="78.5" y="1137.5" width="13" height="3" fill="#ffffff" stroke="#1a1a1a" stroke-width="1.1"/>
<rect x="91.5" y="1027.5" width="14" height="113" fill="#cc0a1e" stroke="#1a1a1a" stroke-width="1.1"/>
<rect x="105.5" y="1099.5" width="13" height="41" fill="#c6c6c6" stroke="#1a1a1a" stroke-width="1.1"/>
<line x1="71.5" y1="1136.5" x2="71.5" y2="1136.5" stroke="#1a1a1a" stroke-width="1.3" stroke-linecap="butt"/>
<line x1="69.1" y1="1136.5" x2="73.9" y2="1136.5" stroke="#1a1a1a" stroke-width="1.5" stroke-linecap="butt"/>
<line x1="84.5" y1="1137.5" x2="84.5" y2="1137.5" stroke="#1a1a1a" stroke-width="1.3" stroke-linecap="butt"/>
<line x1="82.1" y1="1137.5" x2="86.9" y2="1137.5" stroke="#1a1a1a" stroke-width="1.5" stroke-linecap="butt"/>
<line x1="98.5" y1="1027.5" x2="98.5" y2="1014.5" stroke="#1a1a1a" stroke-width="1.3" stroke-linecap="butt"/>
<line x1="96.1" y1="1014.5" x2="100.9" y2="1014.5" stroke="#1a1a1a" stroke-width="1.5" stroke-linecap="butt"/>
<line x1="111.5" y1="1099.5" x2="111.5" y2="1088.5" stroke="#1a1a1a" stroke-width="1.3" stroke-linecap="butt"/>
<line x1="109.1" y1="1088.5" x2="113.9" y2="1088.5" stroke="#1a1a1a" stroke-width="1.5" stroke-linecap="butt"/>
<line x1="56.5" y1="959.9" x2="56.5" y2="1141.1" stroke="#1a1a1a" stroke-width="1.4" stroke-linecap="butt"/>
<line x1="53.5" y1="1140.5" x2="125.2" y2="1140.5" stroke="#1a1a1a" stroke-width="1.4" stroke-linecap="butt"/>
<line x1="53.5" y1="1140.5" x2="56.5" y2="1140.5" stroke="#1a1a1a" stroke-width="1.3" stroke-linecap="butt"/>
<text transform="translate(51.6,1144.14) scale(1.06,1)" font-size="11" text-anchor="end">0</text>
<line x1="53.5" y1="1114.5" x2="56.5" y2="1114.5" stroke="#1a1a1a" stroke-width="1.3" stroke-linecap="butt"/>
<text transform="translate(51.6,1118.14) scale(1.06,1)" font-size="11" text-anchor="end">10</text>
<line x1="53.5" y1="1088.5" x2="56.5" y2="1088.5" stroke="#1a1a1a" stroke-width="1.3" stroke-linecap="butt"/>
<text transform="translate(51.6,1092.14) scale(1.06,1)" font-size="11" text-anchor="end">20</text>
<line x1="53.5" y1="1062.5" x2="56.5" y2="1062.5" stroke="#1a1a1a" stroke-width="1.3" stroke-linecap="butt"/>
<text transform="translate(51.6,1066.14) scale(1.06,1)" font-size="11" text-anchor="end">30</text>
<line x1="53.5" y1="1037.5" x2="56.5" y2="1037.5" stroke="#1a1a1a" stroke-width="1.3" stroke-linecap="butt"/>
<text transform="translate(51.6,1040.14) scale(1.06,1)" font-size="11" text-anchor="end">40</text>
<line x1="53.5" y1="1011.5" x2="56.5" y2="1011.5" stroke="#1a1a1a" stroke-width="1.3" stroke-linecap="butt"/>
<text transform="translate(51.6,1014.14) scale(1.06,1)" font-size="11" text-anchor="end">50</text>
<line x1="53.5" y1="985.5" x2="56.5" y2="985.5" stroke="#1a1a1a" stroke-width="1.3" stroke-linecap="butt"/>
<text transform="translate(51.6,988.14) scale(1.06,1)" font-size="11" text-anchor="end">60</text>
<line x1="53.5" y1="960.5" x2="56.5" y2="960.5" stroke="#1a1a1a" stroke-width="1.3" stroke-linecap="butt"/>
<text transform="translate(51.6,962.14) scale(1.06,1)" font-size="11" text-anchor="end">70</text>
<path d="M98.5 1007.7V998.5H111.5V1082.7" stroke="#1a1a1a" stroke-width="1.4" fill="none" stroke-linejoin="round"/>
<path d="M101.85 990.7L101.85 987.6M101.85 990.7L104.8 989.74M101.85 990.7L103.67 993.21M101.85 990.7L100.03 993.21M101.85 990.7L98.9 989.74" stroke="#1a1a1a" stroke-width="1.35" stroke-linecap="butt" fill="none"/>
<path d="M109.85 990.7L109.85 987.6M109.85 990.7L112.8 989.74M109.85 990.7L111.67 993.21M109.85 990.7L108.03 993.21M109.85 990.7L106.9 989.74" stroke="#1a1a1a" stroke-width="1.35" stroke-linecap="butt" fill="none"/>
<text x="63.1" y="1156.7" font-size="12" textLength="61.5" lengthAdjust="spacingAndGlyphs">pre-B cells</text>
<rect x="154.5" y="1026.5" width="15" height="115" fill="#2d2a86" stroke="#1a1a1a" stroke-width="1.1"/>
<rect x="169.5" y="1036.5" width="14" height="105" fill="#ffffff" stroke="#1a1a1a" stroke-width="1.1"/>
<rect x="183.5" y="1013.5" width="14" height="128" fill="#cc0a1e" stroke="#1a1a1a" stroke-width="1.1"/>
<rect x="197.5" y="1061.5" width="14" height="80" fill="#c6c6c6" stroke="#1a1a1a" stroke-width="1.1"/>
<line x1="161.5" y1="1026.5" x2="161.5" y2="1019.5" stroke="#1a1a1a" stroke-width="1.3" stroke-linecap="butt"/>
<line x1="159.1" y1="1019.5" x2="163.9" y2="1019.5" stroke="#1a1a1a" stroke-width="1.5" stroke-linecap="butt"/>
<line x1="176.5" y1="1036.5" x2="176.5" y2="1028.5" stroke="#1a1a1a" stroke-width="1.3" stroke-linecap="butt"/>
<line x1="174.1" y1="1028.5" x2="178.9" y2="1028.5" stroke="#1a1a1a" stroke-width="1.5" stroke-linecap="butt"/>
<line x1="190.5" y1="1013.5" x2="190.5" y2="1004.5" stroke="#1a1a1a" stroke-width="1.3" stroke-linecap="butt"/>
<line x1="188.1" y1="1004.5" x2="192.9" y2="1004.5" stroke="#1a1a1a" stroke-width="1.5" stroke-linecap="butt"/>
<line x1="204.5" y1="1061.5" x2="204.5" y2="1050.5" stroke="#1a1a1a" stroke-width="1.3" stroke-linecap="butt"/>
<line x1="202.1" y1="1050.5" x2="206.9" y2="1050.5" stroke="#1a1a1a" stroke-width="1.5" stroke-linecap="butt"/>
<line x1="148.5" y1="960.9" x2="148.5" y2="1142.1" stroke="#1a1a1a" stroke-width="1.4" stroke-linecap="butt"/>
<line x1="145.5" y1="1141.5" x2="216" y2="1141.5" stroke="#1a1a1a" stroke-width="1.4" stroke-linecap="butt"/>
<line x1="145.5" y1="1141.5" x2="148.5" y2="1141.5" stroke="#1a1a1a" stroke-width="1.3" stroke-linecap="butt"/>
<text transform="translate(142.9,1144.94) scale(1.04,1)" font-size="11" text-anchor="end">0</text>
<line x1="145.5" y1="1118.5" x2="148.5" y2="1118.5" stroke="#1a1a1a" stroke-width="1.3" stroke-linecap="butt"/>
<text transform="translate(142.9,1122.23) scale(1.04,1)" font-size="11" text-anchor="end">10</text>
<line x1="145.5" y1="1096.5" x2="148.5" y2="1096.5" stroke="#1a1a1a" stroke-width="1.3" stroke-linecap="butt"/>
<text transform="translate(142.9,1099.51) scale(1.04,1)" font-size="11" text-anchor="end">20</text>
<line x1="145.5" y1="1073.5" x2="148.5" y2="1073.5" stroke="#1a1a1a" stroke-width="1.3" stroke-linecap="butt"/>
<text transform="translate(142.9,1076.8) scale(1.04,1)" font-size="11" text-anchor="end">30</text>
<line x1="145.5" y1="1051.5" x2="148.5" y2="1051.5" stroke="#1a1a1a" stroke-width="1.3" stroke-linecap="butt"/>
<text transform="translate(142.9,1054.09) scale(1.04,1)" font-size="11" text-anchor="end">40</text>
<line x1="145.5" y1="1028.5" x2="148.5" y2="1028.5" stroke="#1a1a1a" stroke-width="1.3" stroke-linecap="butt"/>
<text transform="translate(142.9,1031.38) scale(1.04,1)" font-size="11" text-anchor="end">50</text>
<line x1="145.5" y1="1006.5" x2="148.5" y2="1006.5" stroke="#1a1a1a" stroke-width="1.3" stroke-linecap="butt"/>
<text transform="translate(142.9,1008.66) scale(1.04,1)" font-size="11" text-anchor="end">60</text>
<line x1="145.5" y1="983.5" x2="148.5" y2="983.5" stroke="#1a1a1a" stroke-width="1.3" stroke-linecap="butt"/>
<text transform="translate(142.9,985.95) scale(1.04,1)" font-size="11" text-anchor="end">70</text>
<line x1="145.5" y1="961.5" x2="148.5" y2="961.5" stroke="#1a1a1a" stroke-width="1.3" stroke-linecap="butt"/>
<text transform="translate(142.9,963.24) scale(1.04,1)" font-size="11" text-anchor="end">80</text>
<path d="M190.5 1000.4V990.5H204.5V1044" stroke="#1a1a1a" stroke-width="1.4" fill="none" stroke-linejoin="round"/>
<path d="M198.4 982.4L198.4 979.3M198.4 982.4L201.35 981.44M198.4 982.4L200.22 984.91M198.4 982.4L196.58 984.91M198.4 982.4L195.45 981.44" stroke="#1a1a1a" stroke-width="1.35" stroke-linecap="butt" fill="none"/>
<text x="151.7" y="1156.7" font-size="12" textLength="64.5" lengthAdjust="spacingAndGlyphs">sIgM+ cells</text>
<rect x="245.5" y="1083.5" width="15" height="58" fill="#2d2a86" stroke="#1a1a1a" stroke-width="1.1"/>
<rect x="260.5" y="1052.5" width="14" height="89" fill="#ffffff" stroke="#1a1a1a" stroke-width="1.1"/>
<rect x="274.5" y="1082.5" width="15" height="59" fill="#cc0a1e" stroke="#1a1a1a" stroke-width="1.1"/>
<rect x="289.5" y="1012.5" width="14" height="129" fill="#c6c6c6" stroke="#1a1a1a" stroke-width="1.1"/>
<line x1="253.5" y1="1083.5" x2="253.5" y2="1075.5" stroke="#1a1a1a" stroke-width="1.3" stroke-linecap="butt"/>
<line x1="251.1" y1="1075.5" x2="255.9" y2="1075.5" stroke="#1a1a1a" stroke-width="1.5" stroke-linecap="butt"/>
<line x1="267.5" y1="1052.5" x2="267.5" y2="1036.5" stroke="#1a1a1a" stroke-width="1.3" stroke-linecap="butt"/>
<line x1="265.1" y1="1036.5" x2="269.9" y2="1036.5" stroke="#1a1a1a" stroke-width="1.5" stroke-linecap="butt"/>
<line x1="281.5" y1="1082.5" x2="281.5" y2="1072.5" stroke="#1a1a1a" stroke-width="1.3" stroke-linecap="butt"/>
<line x1="279.1" y1="1072.5" x2="283.9" y2="1072.5" stroke="#1a1a1a" stroke-width="1.5" stroke-linecap="butt"/>
<line x1="296.5" y1="1012.5" x2="296.5" y2="996.5" stroke="#1a1a1a" stroke-width="1.3" stroke-linecap="butt"/>
<line x1="294.1" y1="996.5" x2="298.9" y2="996.5" stroke="#1a1a1a" stroke-width="1.5" stroke-linecap="butt"/>
<line x1="240.5" y1="960.9" x2="240.5" y2="1142.1" stroke="#1a1a1a" stroke-width="1.4" stroke-linecap="butt"/>
<line x1="237.5" y1="1141.5" x2="306" y2="1141.5" stroke="#1a1a1a" stroke-width="1.4" stroke-linecap="butt"/>
<line x1="237.5" y1="1141.5" x2="240.5" y2="1141.5" stroke="#1a1a1a" stroke-width="1.3" stroke-linecap="butt"/>
<text x="234.2" y="1145.14" font-size="11" text-anchor="end">0</text>
<line x1="237.5" y1="1115.5" x2="240.5" y2="1115.5" stroke="#1a1a1a" stroke-width="1.3" stroke-linecap="butt"/>
<text x="234.2" y="1119.15" font-size="11" text-anchor="end">2</text>
<line x1="237.5" y1="1089.5" x2="240.5" y2="1089.5" stroke="#1a1a1a" stroke-width="1.3" stroke-linecap="butt"/>
<text x="234.2" y="1093.17" font-size="11" text-anchor="end">4</text>
<line x1="237.5" y1="1064.5" x2="240.5" y2="1064.5" stroke="#1a1a1a" stroke-width="1.3" stroke-linecap="butt"/>
<text x="234.2" y="1067.18" font-size="11" text-anchor="end">6</text>
<line x1="237.5" y1="1038.5" x2="240.5" y2="1038.5" stroke="#1a1a1a" stroke-width="1.3" stroke-linecap="butt"/>
<text x="234.2" y="1041.2" font-size="11" text-anchor="end">8</text>
<line x1="237.5" y1="1012.5" x2="240.5" y2="1012.5" stroke="#1a1a1a" stroke-width="1.3" stroke-linecap="butt"/>
<text x="234.2" y="1015.21" font-size="11" text-anchor="end">10</text>
<line x1="237.5" y1="986.5" x2="240.5" y2="986.5" stroke="#1a1a1a" stroke-width="1.3" stroke-linecap="butt"/>
<text x="234.2" y="989.22" font-size="11" text-anchor="end">12</text>
<line x1="237.5" y1="961.5" x2="240.5" y2="961.5" stroke="#1a1a1a" stroke-width="1.3" stroke-linecap="butt"/>
<text x="234.2" y="963.24" font-size="11" text-anchor="end">14</text>
<path d="M281.5 1064.4V980.5H296.5V990.4" stroke="#1a1a1a" stroke-width="1.4" fill="none" stroke-linejoin="round"/>
<path d="M286 972.8L286 969.7M286 972.8L288.95 971.84M286 972.8L287.82 975.31M286 972.8L284.18 975.31M286 972.8L283.05 971.84" stroke="#1a1a1a" stroke-width="1.35" stroke-linecap="butt" fill="none"/>
<path d="M294 972.8L294 969.7M294 972.8L296.95 971.84M294 972.8L295.82 975.31M294 972.8L292.18 975.31M294 972.8L291.05 971.84" stroke="#1a1a1a" stroke-width="1.35" stroke-linecap="butt" fill="none"/>
<text x="244.2" y="1156.7" font-size="12" textLength="62" lengthAdjust="spacingAndGlyphs">CD4+ cells</text>
<rect x="337.5" y="1071.5" width="14" height="71" fill="#2d2a86" stroke="#1a1a1a" stroke-width="1.1"/>
<rect x="351.5" y="1046.5" width="15" height="96" fill="#ffffff" stroke="#1a1a1a" stroke-width="1.1"/>
<rect x="366.5" y="1061.5" width="14" height="81" fill="#cc0a1e" stroke="#1a1a1a" stroke-width="1.1"/>
<rect x="380.5" y="993.5" width="14" height="149" fill="#c6c6c6" stroke="#1a1a1a" stroke-width="1.1"/>
<line x1="344.5" y1="1071.5" x2="344.5" y2="1064.5" stroke="#1a1a1a" stroke-width="1.3" stroke-linecap="butt"/>
<line x1="342.1" y1="1064.5" x2="346.9" y2="1064.5" stroke="#1a1a1a" stroke-width="1.5" stroke-linecap="butt"/>
<line x1="358.5" y1="1046.5" x2="358.5" y2="1034.5" stroke="#1a1a1a" stroke-width="1.3" stroke-linecap="butt"/>
<line x1="356.1" y1="1034.5" x2="360.9" y2="1034.5" stroke="#1a1a1a" stroke-width="1.5" stroke-linecap="butt"/>
<line x1="373.5" y1="1061.5" x2="373.5" y2="1054.5" stroke="#1a1a1a" stroke-width="1.3" stroke-linecap="butt"/>
<line x1="371.1" y1="1054.5" x2="375.9" y2="1054.5" stroke="#1a1a1a" stroke-width="1.5" stroke-linecap="butt"/>
<line x1="387.5" y1="993.5" x2="387.5" y2="982.5" stroke="#1a1a1a" stroke-width="1.3" stroke-linecap="butt"/>
<line x1="385.1" y1="982.5" x2="389.9" y2="982.5" stroke="#1a1a1a" stroke-width="1.5" stroke-linecap="butt"/>
<line x1="332.5" y1="961.9" x2="332.5" y2="1143.1" stroke="#1a1a1a" stroke-width="1.4" stroke-linecap="butt"/>
<line x1="329.5" y1="1142.5" x2="399.7" y2="1142.5" stroke="#1a1a1a" stroke-width="1.4" stroke-linecap="butt"/>
<line x1="329.5" y1="1142.5" x2="332.5" y2="1142.5" stroke="#1a1a1a" stroke-width="1.3" stroke-linecap="butt"/>
<text transform="translate(327.6,1146.74) scale(1.04,1)" font-size="11" text-anchor="end">0</text>
<line x1="329.5" y1="1122.5" x2="332.5" y2="1122.5" stroke="#1a1a1a" stroke-width="1.3" stroke-linecap="butt"/>
<text transform="translate(327.6,1126.52) scale(1.04,1)" font-size="11" text-anchor="end">2</text>
<line x1="329.5" y1="1102.5" x2="332.5" y2="1102.5" stroke="#1a1a1a" stroke-width="1.3" stroke-linecap="butt"/>
<text transform="translate(327.6,1106.29) scale(1.04,1)" font-size="11" text-anchor="end">4</text>
<line x1="329.5" y1="1082.5" x2="332.5" y2="1082.5" stroke="#1a1a1a" stroke-width="1.3" stroke-linecap="butt"/>
<text transform="translate(327.6,1086.07) scale(1.04,1)" font-size="11" text-anchor="end">6</text>
<line x1="329.5" y1="1062.5" x2="332.5" y2="1062.5" stroke="#1a1a1a" stroke-width="1.3" stroke-linecap="butt"/>
<text transform="translate(327.6,1065.85) scale(1.04,1)" font-size="11" text-anchor="end">8</text>
<line x1="329.5" y1="1042.5" x2="332.5" y2="1042.5" stroke="#1a1a1a" stroke-width="1.3" stroke-linecap="butt"/>
<text transform="translate(327.6,1045.63) scale(1.04,1)" font-size="11" text-anchor="end">10</text>
<line x1="329.5" y1="1022.5" x2="332.5" y2="1022.5" stroke="#1a1a1a" stroke-width="1.3" stroke-linecap="butt"/>
<text transform="translate(327.6,1025.4) scale(1.04,1)" font-size="11" text-anchor="end">12</text>
<line x1="329.5" y1="1002.5" x2="332.5" y2="1002.5" stroke="#1a1a1a" stroke-width="1.3" stroke-linecap="butt"/>
<text transform="translate(327.6,1005.18) scale(1.04,1)" font-size="11" text-anchor="end">14</text>
<line x1="329.5" y1="982.5" x2="332.5" y2="982.5" stroke="#1a1a1a" stroke-width="1.3" stroke-linecap="butt"/>
<text transform="translate(327.6,984.96) scale(1.04,1)" font-size="11" text-anchor="end">16</text>
<line x1="329.5" y1="962.5" x2="332.5" y2="962.5" stroke="#1a1a1a" stroke-width="1.3" stroke-linecap="butt"/>
<text transform="translate(327.6,964.74) scale(1.04,1)" font-size="11" text-anchor="end">18</text>
<path d="M373.5 1048V966.5H387.5V976" stroke="#1a1a1a" stroke-width="1.4" fill="none" stroke-linejoin="round"/>
<path d="M377.5 958.7L377.5 955.6M377.5 958.7L380.45 957.74M377.5 958.7L379.32 961.21M377.5 958.7L375.68 961.21M377.5 958.7L374.55 957.74" stroke="#1a1a1a" stroke-width="1.35" stroke-linecap="butt" fill="none"/>
<path d="M385.5 958.7L385.5 955.6M385.5 958.7L388.45 957.74M385.5 958.7L387.32 961.21M385.5 958.7L383.68 961.21M385.5 958.7L382.55 957.74" stroke="#1a1a1a" stroke-width="1.35" stroke-linecap="butt" fill="none"/>
<text x="334.2" y="1156.7" font-size="12" textLength="61.6" lengthAdjust="spacingAndGlyphs">CD8+ cells</text>
<g transform="translate(20.3,251) rotate(-90)"><text x="0" y="0" font-size="13.2" textLength="213" lengthAdjust="spacingAndGlyphs">Spleen : body weight (x10<tspan font-size="12.54" dy="-4.09">-3</tspan><tspan dy="4.09">) &#177; s.e.m.</tspan></text></g>
<g transform="translate(290.6,234) rotate(-90)"><text x="0" y="0" font-size="13.2" textLength="147.5" lengthAdjust="spacingAndGlyphs">Nucleated cells per femur</text></g>
<g transform="translate(305.7,202.5) rotate(-90)"><text x="0" y="0" font-size="12.8" textLength="82.6" lengthAdjust="spacingAndGlyphs">(x10<tspan font-size="12.16" dy="-3.97">6</tspan><tspan dy="3.97">) &#177; s.e.m.</tspan></text></g>
<g transform="translate(20.3,609.7) rotate(-90)"><text x="0" y="0" font-size="13.2" textLength="174.7" lengthAdjust="spacingAndGlyphs">Cells per femur (x10<tspan font-size="12.54" dy="-4.09">5</tspan><tspan dy="4.09">) &#177; s.e.m.</tspan></text></g>
<g transform="translate(19.8,879.7) rotate(-90)"><text x="0" y="0" font-size="13.2" textLength="178.9" lengthAdjust="spacingAndGlyphs">Cells per spleen (x10<tspan font-size="12.54" dy="-4.09">7</tspan><tspan dy="4.09">) &#177; s.e.m.</tspan></text></g>
<g transform="translate(19.8,1139.7) rotate(-90)"><text x="0" y="0" font-size="13.2" textLength="187.8" lengthAdjust="spacingAndGlyphs">Cells per &#956;l blood (x10<tspan font-size="12.54" dy="-4.09">2</tspan><tspan dy="4.09">) &#177; s.e.m.</tspan></text></g>
<defs><radialGradient id="cg" cx="0.5" cy="0.5" r="0.5"><stop offset="0" stop-color="#fbece2"/><stop offset="0.6" stop-color="#f8e2d4"/><stop offset="1" stop-color="#f3d4c0"/></radialGradient></defs>
<circle cx="46.8" cy="326.4" r="18.5" fill="url(#cg)" stroke="#221915" stroke-width="1.9"/>
<circle cx="48" cy="328.2" r="6.0" fill="#e59d76" stroke="#2a1a12" stroke-width="1.8"/>
<circle cx="123.4" cy="326.4" r="18.5" fill="url(#cg)" stroke="#221915" stroke-width="1.9"/>
<circle cx="124.6" cy="328.2" r="6.0" fill="#e59d76" stroke="#2a1a12" stroke-width="1.8"/>
<circle cx="192.2" cy="326.4" r="18.5" fill="url(#cg)" stroke="#221915" stroke-width="1.9"/>
<circle cx="193.4" cy="328.2" r="6.0" fill="#e59d76" stroke="#2a1a12" stroke-width="1.8"/>
<circle cx="261" cy="326.4" r="18.5" fill="url(#cg)" stroke="#221915" stroke-width="1.9"/>
<circle cx="262.2" cy="328.2" r="6.0" fill="#e59d76" stroke="#2a1a12" stroke-width="1.8"/>
<circle cx="329.8" cy="326.4" r="18.5" fill="url(#cg)" stroke="#221915" stroke-width="1.9"/>
<circle cx="331" cy="328.2" r="6.0" fill="#e59d76" stroke="#2a1a12" stroke-width="1.8"/>
<circle cx="398.6" cy="326.4" r="18.5" fill="url(#cg)" stroke="#221915" stroke-width="1.9"/>
<circle cx="399.8" cy="328.2" r="6.0" fill="#e59d76" stroke="#2a1a12" stroke-width="1.8"/>
<circle cx="467.6" cy="326.4" r="18.5" fill="url(#cg)" stroke="#221915" stroke-width="1.9"/>
<circle cx="468.8" cy="328.2" r="6.0" fill="#e59d76" stroke="#2a1a12" stroke-width="1.8"/>
<line x1="68" y1="326.4" x2="96" y2="326.4" stroke="#111" stroke-width="1.7" stroke-linecap="butt"/>
<path d="M84 326.4L73.4 321.4L76.2 326.4L73.4 331.4Z" fill="#111"/>
<path d="M100.8 326.4L89.2 321.4L92 326.4L89.2 331.4Z" fill="#111"/>
<line x1="145.6" y1="326.4" x2="162.9" y2="326.4" stroke="#111" stroke-width="1.7" stroke-linecap="butt"/>
<path d="M167.9 326.4L156.2 321.4L159 326.4L156.2 331.4Z" fill="#111"/>
<line x1="214.4" y1="326.4" x2="231.7" y2="326.4" stroke="#111" stroke-width="1.7" stroke-linecap="butt"/>
<path d="M236.7 326.4L225 321.4L227.8 326.4L225 331.4Z" fill="#111"/>
<line x1="283.2" y1="326.4" x2="300.5" y2="326.4" stroke="#111" stroke-width="1.7" stroke-linecap="butt"/>
<path d="M305.5 326.4L293.8 321.4L296.6 326.4L293.8 331.4Z" fill="#111"/>
<line x1="352" y1="326.4" x2="369.3" y2="326.4" stroke="#111" stroke-width="1.7" stroke-linecap="butt"/>
<path d="M374.3 326.4L362.6 321.4L365.4 326.4L362.6 331.4Z" fill="#111"/>
<line x1="420.8" y1="326.4" x2="438.3" y2="326.4" stroke="#111" stroke-width="1.7" stroke-linecap="butt"/>
<path d="M443.3 326.4L431.6 321.4L434.4 326.4L431.6 331.4Z" fill="#111"/>
<text x="34.6" y="364.8" font-size="12.6" textLength="26.4" lengthAdjust="spacingAndGlyphs">HSC</text>
<text x="110.6" y="364.8" font-size="12.6" textLength="24.8" lengthAdjust="spacingAndGlyphs">CLP</text>
<text x="163.3" y="364.8" font-size="12.6" textLength="54.1" lengthAdjust="spacingAndGlyphs">pre-pro B</text>
<text x="244" y="364.8" font-size="12.6" textLength="32.1" lengthAdjust="spacingAndGlyphs">pro-B</text>
<text x="311.3" y="364.8" font-size="12.6" textLength="33.8" lengthAdjust="spacingAndGlyphs">pre-B</text>
<text x="369.8" y="364.8" font-size="12.6" textLength="54.3" lengthAdjust="spacingAndGlyphs">immature</text>
<text x="445.8" y="364.8" font-size="12.6" textLength="40.3" lengthAdjust="spacingAndGlyphs">mature</text>
<defs><filter id="bl8" x="-30%" y="-30%" width="160%" height="160%"><feGaussianBlur stdDeviation="6"/></filter><filter id="bl3" x="-30%" y="-30%" width="160%" height="160%"><feGaussianBlur stdDeviation="3"/></filter><filter id="bl1" x="-10%" y="-10%" width="120%" height="120%"><feGaussianBlur stdDeviation="0.6"/></filter><filter id="bl05"><feGaussianBlur stdDeviation="0.35"/></filter></defs>
<defs><radialGradient id="pg" cx="0.5" cy="0.5" r="0.5"><stop offset="0" stop-color="#d8d8d8"/><stop offset="0.5" stop-color="#e0e0e0" stop-opacity="0.8"/><stop offset="1" stop-color="#ececec" stop-opacity="0"/></radialGradient><linearGradient id="pb" x1="0" y1="0" x2="1" y2="0"><stop offset="0" stop-color="#ebebeb"/><stop offset="0.6" stop-color="#efefef"/><stop offset="1" stop-color="#f8f8f8"/></linearGradient><radialGradient id="sp1" cx="0.45" cy="0.42" r="0.62"><stop offset="0" stop-color="#210405"/><stop offset="0.65" stop-color="#2e0709"/><stop offset="1" stop-color="#501014"/></radialGradient><radialGradient id="sp2" cx="0.45" cy="0.45" r="0.62"><stop offset="0" stop-color="#300708"/><stop offset="0.65" stop-color="#3c0a0c"/><stop offset="1" stop-color="#5a1416"/></radialGradient></defs>
<rect x="126.5" y="120" width="147" height="151.5" fill="url(#pb)" filter="url(#bl1)"/>
<ellipse cx="203" cy="210" rx="72" ry="56" fill="url(#pg)"/>
<path d="M153.8 179.6 C153.5 175 156 172 159.5 171 C163 169.5 167 168.2 171 167.8 C180 167 195 167 205.7 167.3 C215 167.8 225 170 234.6 172.1 C242 174 249 177 251.9 179.6 C254 182 254.2 187 252.5 191 C251 194 248.5 196 246.2 196.9 C243 198.5 240 199.4 234.6 199.8 C228 199.6 220 198.5 211.5 196.9 C205 195.5 198 193.8 194.2 192.9 C186 191.8 178 191.5 171 191.2 C165 190.5 160 189.5 157.5 187.5 C155 185.5 154 182.5 153.8 179.6 Z" fill="none" stroke="#e8b0a8" stroke-width="2.2" opacity="0.7" filter="url(#bl05)"/>
<path d="M159.6 218.1 C160 215 161.5 213.5 163.2 213.2 C166 212.5 168.5 212.2 171.3 212.4 C175 212.8 177 213.3 179.5 214 C183 215 185 215.8 187.7 216.4 C193 217.3 198 217.7 204 218.1 C210 218.6 215 219 220.4 219.7 C223 220.1 225 220.5 226.9 221.3 C229 222.2 230.7 223.2 231.8 224.6 C233.5 226.3 235 228 235.9 229.5 C234.8 231.5 233.5 233 231.8 234.4 C230.2 235.8 228.5 236.8 226.9 237.7 C224.5 238.4 222.5 238.6 220.4 238.5 C217.5 238.2 214.8 237.6 212.2 236.9 C209.5 236 206.8 235.2 204 234.4 C198 233 193 232.5 187.7 232 C184.5 231.7 182 231.5 179.5 231.2 C176.5 230.7 174 230.2 171.3 229.5 C168 228.5 165.5 227.5 163.2 226.2 C161.5 225 160.3 223.8 159.9 222.2 C159.5 220.8 159.5 219.5 159.6 218.1 Z" fill="none" stroke="#e8b0a8" stroke-width="2.2" opacity="0.7" filter="url(#bl05)"/>
<path d="M153.8 179.6 C153.5 175 156 172 159.5 171 C163 169.5 167 168.2 171 167.8 C180 167 195 167 205.7 167.3 C215 167.8 225 170 234.6 172.1 C242 174 249 177 251.9 179.6 C254 182 254.2 187 252.5 191 C251 194 248.5 196 246.2 196.9 C243 198.5 240 199.4 234.6 199.8 C228 199.6 220 198.5 211.5 196.9 C205 195.5 198 193.8 194.2 192.9 C186 191.8 178 191.5 171 191.2 C165 190.5 160 189.5 157.5 187.5 C155 185.5 154 182.5 153.8 179.6 Z" fill="url(#sp1)" stroke="#5e1212" stroke-width="1.0" filter="url(#bl05)"/>
<path d="M159.6 218.1 C160 215 161.5 213.5 163.2 213.2 C166 212.5 168.5 212.2 171.3 212.4 C175 212.8 177 213.3 179.5 214 C183 215 185 215.8 187.7 216.4 C193 217.3 198 217.7 204 218.1 C210 218.6 215 219 220.4 219.7 C223 220.1 225 220.5 226.9 221.3 C229 222.2 230.7 223.2 231.8 224.6 C233.5 226.3 235 228 235.9 229.5 C234.8 231.5 233.5 233 231.8 234.4 C230.2 235.8 228.5 236.8 226.9 237.7 C224.5 238.4 222.5 238.6 220.4 238.5 C217.5 238.2 214.8 237.6 212.2 236.9 C209.5 236 206.8 235.2 204 234.4 C198 233 193 232.5 187.7 232 C184.5 231.7 182 231.5 179.5 231.2 C176.5 230.7 174 230.2 171.3 229.5 C168 228.5 165.5 227.5 163.2 226.2 C161.5 225 160.3 223.8 159.9 222.2 C159.5 220.8 159.5 219.5 159.6 218.1 Z" fill="url(#sp2)" stroke="#6a1616" stroke-width="1.0" filter="url(#bl05)"/>
<circle cx="173.5" cy="180" r="1.1" fill="#f0eaea" opacity="0.9" filter="url(#bl05)"/>
<circle cx="181.3" cy="178.5" r="1.2" fill="#f0eaea" opacity="0.9" filter="url(#bl05)"/>
<circle cx="187" cy="177.5" r="0.9" fill="#f0eaea" opacity="0.9" filter="url(#bl05)"/>
<circle cx="192" cy="177.6" r="0.8" fill="#f0eaea" opacity="0.9" filter="url(#bl05)"/>
<circle cx="198" cy="177.2" r="1.3" fill="#f0eaea" opacity="0.9" filter="url(#bl05)"/>
<circle cx="201" cy="179.5" r="0.9" fill="#f0eaea" opacity="0.9" filter="url(#bl05)"/>
<circle cx="205" cy="180" r="1.2" fill="#f0eaea" opacity="0.9" filter="url(#bl05)"/>
<circle cx="207.5" cy="178.3" r="1.1" fill="#f0eaea" opacity="0.9" filter="url(#bl05)"/>
<circle cx="210" cy="182" r="1.2" fill="#f0eaea" opacity="0.9" filter="url(#bl05)"/>
<circle cx="214" cy="180.5" r="0.8" fill="#f0eaea" opacity="0.9" filter="url(#bl05)"/>
<circle cx="221" cy="181" r="1.3" fill="#f0eaea" opacity="0.9" filter="url(#bl05)"/>
<circle cx="223.5" cy="183.2" r="1.1" fill="#f0eaea" opacity="0.9" filter="url(#bl05)"/>
<circle cx="228" cy="185" r="1" fill="#f0eaea" opacity="0.9" filter="url(#bl05)"/>
<circle cx="232" cy="186.5" r="1" fill="#f0eaea" opacity="0.9" filter="url(#bl05)"/>
<circle cx="236.5" cy="187" r="0.8" fill="#f0eaea" opacity="0.9" filter="url(#bl05)"/>
<circle cx="241.8" cy="188.3" r="1.7" fill="#f0eaea" opacity="0.9" filter="url(#bl05)"/>
<circle cx="174.5" cy="220.5" r="1" fill="#f0eaea" opacity="0.9" filter="url(#bl05)"/>
<circle cx="183" cy="221" r="0.9" fill="#f0eaea" opacity="0.9" filter="url(#bl05)"/>
<circle cx="189" cy="221.5" r="1.1" fill="#f0eaea" opacity="0.9" filter="url(#bl05)"/>
<circle cx="193" cy="221" r="1" fill="#f0eaea" opacity="0.9" filter="url(#bl05)"/>
<circle cx="206" cy="223.5" r="1" fill="#f0eaea" opacity="0.9" filter="url(#bl05)"/>
<circle cx="213" cy="227" r="0.8" fill="#f0eaea" opacity="0.9" filter="url(#bl05)"/>
<circle cx="222" cy="229.5" r="1.2" fill="#f0eaea" opacity="0.9" filter="url(#bl05)"/>
<text x="153" y="152.3" font-size="12.2" font-style="italic" fill="#333" textLength="22.8" lengthAdjust="spacingAndGlyphs">Moz</text>
<text x="176.1" y="147" font-size="9.8" fill="#333" textLength="19.3" lengthAdjust="spacingAndGlyphs">+/+</text>
<text x="197.6" y="152.3" font-size="12.2" font-style="italic" fill="#333" textLength="42.4" lengthAdjust="spacingAndGlyphs">E<tspan font-style="normal">&#956;</tspan>-Myc</text>
<text x="240.3" y="147" font-size="9.8" fill="#333" textLength="19.3" lengthAdjust="spacingAndGlyphs">T/+</text>
<text x="154" y="258.1" font-size="12.2" font-style="italic" fill="#333" textLength="22.4" lengthAdjust="spacingAndGlyphs">Moz</text>
<text x="176.5" y="252.8" font-size="9.8" fill="#333" textLength="13.8" lengthAdjust="spacingAndGlyphs">+/-</text>
<text x="196.3" y="258.1" font-size="12.2" font-style="italic" fill="#333" textLength="41.7" lengthAdjust="spacingAndGlyphs">E<tspan font-style="normal">&#956;</tspan>-Myc</text>
<text x="238.5" y="252.8" font-size="9.8" fill="#333" textLength="17.4" lengthAdjust="spacingAndGlyphs">T/+</text>
<rect x="136.5" y="40.8" width="9.4" height="8.9" fill="#2d2a86" stroke="#1a1a1a" stroke-width="1.2"/>
<text x="149.4" y="48.5" font-size="12" font-style="italic" textLength="24.2" lengthAdjust="spacingAndGlyphs">Moz</text>
<text x="174.2" y="44.3" font-size="9.6" textLength="19.2" lengthAdjust="spacingAndGlyphs">+/+</text>
<text x="197" y="48" font-size="12.5" textLength="28.6" lengthAdjust="spacingAndGlyphs">(n=4)</text>
<rect x="136.5" y="59" width="9.4" height="8.9" fill="#ffffff" stroke="#1a1a1a" stroke-width="1.2"/>
<text x="149.4" y="66.7" font-size="12" font-style="italic" textLength="24.2" lengthAdjust="spacingAndGlyphs">Moz</text>
<text x="174.2" y="62.5" font-size="9.6" textLength="16.6" lengthAdjust="spacingAndGlyphs">+/&#8722;</text>
<text x="194.4" y="66.2" font-size="12.5" textLength="28.6" lengthAdjust="spacingAndGlyphs">(n=4)</text>
<rect x="136.5" y="77.9" width="9.4" height="8.9" fill="#cc0a1e" stroke="#1a1a1a" stroke-width="1.2"/>
<text x="149.4" y="85.6" font-size="12" font-style="italic" textLength="24.2" lengthAdjust="spacingAndGlyphs">Moz</text>
<text x="174.2" y="81.4" font-size="9.6" textLength="19.2" lengthAdjust="spacingAndGlyphs">+/+</text>
<text x="197" y="85.1" font-size="12.5" textLength="28.6" lengthAdjust="spacingAndGlyphs">(n=6)</text>
<rect x="136.5" y="96.9" width="9.4" height="8.9" fill="#c6c6c6" stroke="#1a1a1a" stroke-width="1.2"/>
<text x="149.4" y="104.6" font-size="12" font-style="italic" textLength="24.2" lengthAdjust="spacingAndGlyphs">Moz</text>
<text x="174.2" y="100.4" font-size="9.6" textLength="16.6" lengthAdjust="spacingAndGlyphs">+/&#8722;</text>
<text x="194.4" y="104.1" font-size="12.5" textLength="28.6" lengthAdjust="spacingAndGlyphs">(n=4)</text>
<line x1="230.7" y1="78.5" x2="230.7" y2="100" stroke="#1a1a1a" stroke-width="1.5" stroke-linecap="butt"/>
<g transform="translate(238.4,63) rotate(90)"><text x="0" y="0" font-size="12.8" font-style="italic" textLength="43.6" lengthAdjust="spacingAndGlyphs">E<tspan font-style="normal">&#956;</tspan>-Myc</text><text x="44.6" y="-5.0" font-size="10.6" textLength="16.2" lengthAdjust="spacingAndGlyphs">T/+</text></g>
<rect x="403.8" y="34.1" width="9.4" height="8.9" fill="#2d2a86" stroke="#1a1a1a" stroke-width="1.2"/>
<text x="416.7" y="41.8" font-size="12" font-style="italic" textLength="24.2" lengthAdjust="spacingAndGlyphs">Moz</text>
<text x="441.5" y="37.6" font-size="9.6" textLength="19.2" lengthAdjust="spacingAndGlyphs">+/+</text>
<text x="464.3" y="41.3" font-size="12.5" textLength="28.6" lengthAdjust="spacingAndGlyphs">(n=4)</text>
<rect x="403.8" y="52.5" width="9.4" height="8.9" fill="#ffffff" stroke="#1a1a1a" stroke-width="1.2"/>
<text x="416.7" y="60.2" font-size="12" font-style="italic" textLength="24.2" lengthAdjust="spacingAndGlyphs">Moz</text>
<text x="441.5" y="56" font-size="9.6" textLength="16.6" lengthAdjust="spacingAndGlyphs">+/&#8722;</text>
<text x="461.7" y="59.7" font-size="12.5" textLength="28.6" lengthAdjust="spacingAndGlyphs">(n=4)</text>
<rect x="403.8" y="71.5" width="9.4" height="8.9" fill="#cc0a1e" stroke="#1a1a1a" stroke-width="1.2"/>
<text x="416.7" y="79.2" font-size="12" font-style="italic" textLength="24.2" lengthAdjust="spacingAndGlyphs">Moz</text>
<text x="441.5" y="75" font-size="9.6" textLength="19.2" lengthAdjust="spacingAndGlyphs">+/+</text>
<text x="464.3" y="78.7" font-size="12.5" textLength="28.6" lengthAdjust="spacingAndGlyphs">(n=6)</text>
<rect x="403.8" y="90.2" width="9.4" height="8.9" fill="#c6c6c6" stroke="#1a1a1a" stroke-width="1.2"/>
<text x="416.7" y="97.9" font-size="12" font-style="italic" textLength="24.2" lengthAdjust="spacingAndGlyphs">Moz</text>
<text x="441.5" y="93.7" font-size="9.6" textLength="16.6" lengthAdjust="spacingAndGlyphs">+/&#8722;</text>
<text x="461.7" y="97.4" font-size="12.5" textLength="28.6" lengthAdjust="spacingAndGlyphs">(n=4)</text>
<line x1="497.7" y1="71.8" x2="497.7" y2="98.1" stroke="#1a1a1a" stroke-width="1.5" stroke-linecap="butt"/>
<g transform="translate(505.5,56.2) rotate(90)"><text x="0" y="0" font-size="12.8" font-style="italic" textLength="43.6" lengthAdjust="spacingAndGlyphs">E<tspan font-style="normal">&#956;</tspan>-Myc</text><text x="44.6" y="-5.0" font-size="10.6" textLength="16.2" lengthAdjust="spacingAndGlyphs">T/+</text></g>
<rect x="403.8" y="409.7" width="9.4" height="8.9" fill="#2d2a86" stroke="#1a1a1a" stroke-width="1.2"/>
<text x="416.7" y="417.4" font-size="12" font-style="italic" textLength="24.2" lengthAdjust="spacingAndGlyphs">Moz</text>
<text x="441.5" y="413.2" font-size="9.6" textLength="19.2" lengthAdjust="spacingAndGlyphs">+/+</text>
<text x="464.3" y="416.9" font-size="12.5" textLength="28.6" lengthAdjust="spacingAndGlyphs">(n=4)</text>
<rect x="403.8" y="428.9" width="9.4" height="8.9" fill="#ffffff" stroke="#1a1a1a" stroke-width="1.2"/>
<text x="416.7" y="436.6" font-size="12" font-style="italic" textLength="24.2" lengthAdjust="spacingAndGlyphs">Moz</text>
<text x="441.5" y="432.4" font-size="9.6" textLength="16.6" lengthAdjust="spacingAndGlyphs">+/&#8722;</text>
<text x="461.7" y="436.1" font-size="12.5" textLength="28.6" lengthAdjust="spacingAndGlyphs">(n=4)</text>
<rect x="403.8" y="447.3" width="9.4" height="8.9" fill="#cc0a1e" stroke="#1a1a1a" stroke-width="1.2"/>
<text x="416.7" y="455" font-size="12" font-style="italic" textLength="24.2" lengthAdjust="spacingAndGlyphs">Moz</text>
<text x="441.5" y="450.8" font-size="9.6" textLength="19.2" lengthAdjust="spacingAndGlyphs">+/+</text>
<text x="464.3" y="454.5" font-size="12.5" textLength="28.6" lengthAdjust="spacingAndGlyphs">(n=6)</text>
<rect x="403.8" y="466.3" width="9.4" height="8.9" fill="#c6c6c6" stroke="#1a1a1a" stroke-width="1.2"/>
<text x="416.7" y="474" font-size="12" font-style="italic" textLength="24.2" lengthAdjust="spacingAndGlyphs">Moz</text>
<text x="441.5" y="469.8" font-size="9.6" textLength="16.6" lengthAdjust="spacingAndGlyphs">+/&#8722;</text>
<text x="461.7" y="473.5" font-size="12.5" textLength="28.6" lengthAdjust="spacingAndGlyphs">(n=4)</text>
<line x1="497.8" y1="448" x2="497.8" y2="473.5" stroke="#1a1a1a" stroke-width="1.5" stroke-linecap="butt"/>
<g transform="translate(505.5,432.2) rotate(90)"><text x="0" y="0" font-size="12.8" font-style="italic" textLength="43.6" lengthAdjust="spacingAndGlyphs">E<tspan font-style="normal">&#956;</tspan>-Myc</text><text x="44.6" y="-5.0" font-size="10.6" textLength="16.2" lengthAdjust="spacingAndGlyphs">T/+</text></g>
<rect x="403.8" y="664.7" width="9.4" height="8.9" fill="#2d2a86" stroke="#1a1a1a" stroke-width="1.2"/>
<text x="416.7" y="672.4" font-size="12" font-style="italic" textLength="24.2" lengthAdjust="spacingAndGlyphs">Moz</text>
<text x="441.5" y="668.2" font-size="9.6" textLength="19.2" lengthAdjust="spacingAndGlyphs">+/+</text>
<text x="464.3" y="671.9" font-size="12.5" textLength="28.6" lengthAdjust="spacingAndGlyphs">(n=4)</text>
<rect x="403.8" y="683.2" width="9.4" height="8.9" fill="#ffffff" stroke="#1a1a1a" stroke-width="1.2"/>
<text x="416.7" y="690.9" font-size="12" font-style="italic" textLength="24.2" lengthAdjust="spacingAndGlyphs">Moz</text>
<text x="441.5" y="686.7" font-size="9.6" textLength="16.6" lengthAdjust="spacingAndGlyphs">+/&#8722;</text>
<text x="461.7" y="690.4" font-size="12.5" textLength="28.6" lengthAdjust="spacingAndGlyphs">(n=4)</text>
<rect x="403.8" y="702.1" width="9.4" height="8.9" fill="#cc0a1e" stroke="#1a1a1a" stroke-width="1.2"/>
<text x="416.7" y="709.8" font-size="12" font-style="italic" textLength="24.2" lengthAdjust="spacingAndGlyphs">Moz</text>
<text x="441.5" y="705.6" font-size="9.6" textLength="19.2" lengthAdjust="spacingAndGlyphs">+/+</text>
<text x="464.3" y="709.3" font-size="12.5" textLength="28.6" lengthAdjust="spacingAndGlyphs">(n=6)</text>
<rect x="403.8" y="720.6" width="9.4" height="8.9" fill="#c6c6c6" stroke="#1a1a1a" stroke-width="1.2"/>
<text x="416.7" y="728.3" font-size="12" font-style="italic" textLength="24.2" lengthAdjust="spacingAndGlyphs">Moz</text>
<text x="441.5" y="724.1" font-size="9.6" textLength="16.6" lengthAdjust="spacingAndGlyphs">+/&#8722;</text>
<text x="461.7" y="727.8" font-size="12.5" textLength="28.6" lengthAdjust="spacingAndGlyphs">(n=4)</text>
<line x1="497.8" y1="702" x2="497.8" y2="728.9" stroke="#1a1a1a" stroke-width="1.5" stroke-linecap="butt"/>
<g transform="translate(505.5,687.3) rotate(90)"><text x="0" y="0" font-size="12.8" font-style="italic" textLength="43.6" lengthAdjust="spacingAndGlyphs">E<tspan font-style="normal">&#956;</tspan>-Myc</text><text x="44.6" y="-5.0" font-size="10.6" textLength="16.2" lengthAdjust="spacingAndGlyphs">T/+</text></g>
<rect x="403.8" y="932.7" width="9.4" height="8.9" fill="#2d2a86" stroke="#1a1a1a" stroke-width="1.2"/>
<text x="416.7" y="940.4" font-size="12" font-style="italic" textLength="24.2" lengthAdjust="spacingAndGlyphs">Moz</text>
<text x="441.5" y="936.2" font-size="9.6" textLength="19.2" lengthAdjust="spacingAndGlyphs">+/+</text>
<text x="464.3" y="939.9" font-size="12.5" textLength="28.6" lengthAdjust="spacingAndGlyphs">(n=4)</text>
<rect x="403.8" y="951.2" width="9.4" height="8.9" fill="#ffffff" stroke="#1a1a1a" stroke-width="1.2"/>
<text x="416.7" y="958.9" font-size="12" font-style="italic" textLength="24.2" lengthAdjust="spacingAndGlyphs">Moz</text>
<text x="441.5" y="954.7" font-size="9.6" textLength="16.6" lengthAdjust="spacingAndGlyphs">+/&#8722;</text>
<text x="461.7" y="958.4" font-size="12.5" textLength="28.6" lengthAdjust="spacingAndGlyphs">(n=4)</text>
<rect x="403.8" y="970.7" width="9.4" height="8.9" fill="#cc0a1e" stroke="#1a1a1a" stroke-width="1.2"/>
<text x="416.7" y="978.4" font-size="12" font-style="italic" textLength="24.2" lengthAdjust="spacingAndGlyphs">Moz</text>
<text x="441.5" y="974.2" font-size="9.6" textLength="19.2" lengthAdjust="spacingAndGlyphs">+/+</text>
<text x="464.3" y="977.9" font-size="12.5" textLength="28.6" lengthAdjust="spacingAndGlyphs">(n=6)</text>
<rect x="403.8" y="989.2" width="9.4" height="8.9" fill="#c6c6c6" stroke="#1a1a1a" stroke-width="1.2"/>
<text x="416.7" y="996.9" font-size="12" font-style="italic" textLength="24.2" lengthAdjust="spacingAndGlyphs">Moz</text>
<text x="441.5" y="992.7" font-size="9.6" textLength="16.6" lengthAdjust="spacingAndGlyphs">+/&#8722;</text>
<text x="461.7" y="996.4" font-size="12.5" textLength="28.6" lengthAdjust="spacingAndGlyphs">(n=4)</text>
<line x1="497.9" y1="971.5" x2="497.9" y2="996.3" stroke="#1a1a1a" stroke-width="1.5" stroke-linecap="butt"/>
<g transform="translate(505.5,956.6) rotate(90)"><text x="0" y="0" font-size="12.8" font-style="italic" textLength="43.6" lengthAdjust="spacingAndGlyphs">E<tspan font-style="normal">&#956;</tspan>-Myc</text><text x="44.6" y="-5.0" font-size="10.6" textLength="16.2" lengthAdjust="spacingAndGlyphs">T/+</text></g>
</g>
</svg></body></html>
